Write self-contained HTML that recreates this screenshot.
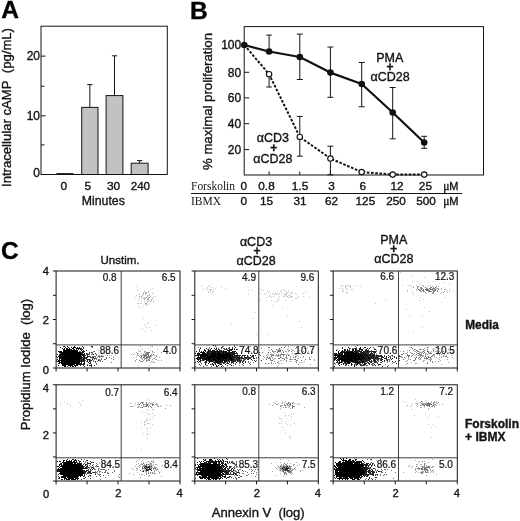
<!DOCTYPE html>
<html lang="en"><head><meta charset="utf-8"><title>Figure</title>
<style>html,body{margin:0;padding:0;background:#fff}svg{display:block}</style></head>
<body><svg width="520" height="521" viewBox="0 0 520 521">
<rect x="0" y="0" width="520" height="521" fill="#fff"/>
<text x="1.2" y="18.3" font-family='"Liberation Sans", sans-serif' font-size="24.5" text-anchor="start" font-weight="bold" fill="#000" stroke="#000" stroke-width="0.36">A</text>
<rect x="41" y="26.2" width="126.30000000000001" height="148.3" fill="none" stroke="#141414" stroke-width="1"/>
<line x1="41" y1="56.1" x2="45.5" y2="56.1" stroke="#141414" stroke-width="1"/>
<text x="40" y="60.4" font-family='"Liberation Sans", sans-serif' font-size="12" text-anchor="end" fill="#141414" stroke="#141414" stroke-width="0.36">20</text>
<line x1="41" y1="115.8" x2="45.5" y2="115.8" stroke="#141414" stroke-width="1"/>
<text x="40" y="120.1" font-family='"Liberation Sans", sans-serif' font-size="12" text-anchor="end" fill="#141414" stroke="#141414" stroke-width="0.36">10</text>
<text x="40" y="176.8" font-family='"Liberation Sans", sans-serif' font-size="12" text-anchor="end" fill="#141414" stroke="#141414" stroke-width="0.36">0</text>
<line x1="41" y1="86.3" x2="44.5" y2="86.3" stroke="#141414" stroke-width="1"/>
<line x1="41" y1="144.9" x2="44.5" y2="144.9" stroke="#141414" stroke-width="1"/>
<line x1="56.4" y1="173.7" x2="73.4" y2="173.7" stroke="#141414" stroke-width="1.2"/>
<line x1="89.85" y1="84.6" x2="89.85" y2="107.389" stroke="#141414" stroke-width="1"/>
<line x1="87.25" y1="84.6" x2="92.44999999999999" y2="84.6" stroke="#141414" stroke-width="1"/>
<rect x="81.7" y="107.389" width="16.299999999999997" height="67.111" fill="#c2c2c2" stroke="#141414" stroke-width="1"/>
<line x1="114.5" y1="55.8" x2="114.5" y2="95.589" stroke="#141414" stroke-width="1"/>
<line x1="111.9" y1="55.8" x2="117.1" y2="55.8" stroke="#141414" stroke-width="1"/>
<rect x="106.1" y="95.589" width="16.80000000000001" height="78.911" fill="#c2c2c2" stroke="#141414" stroke-width="1"/>
<line x1="139.64999999999998" y1="160.6" x2="139.64999999999998" y2="163.203" stroke="#141414" stroke-width="1"/>
<line x1="137.04999999999998" y1="160.6" x2="142.24999999999997" y2="160.6" stroke="#141414" stroke-width="1"/>
<rect x="131.2" y="163.203" width="16.900000000000006" height="11.296999999999997" fill="#c2c2c2" stroke="#141414" stroke-width="1"/>
<text x="63.9" y="189.6" font-family='"Liberation Sans", sans-serif' font-size="11.4" text-anchor="middle" textLength="6.6" lengthAdjust="spacingAndGlyphs" fill="#141414" stroke="#141414" stroke-width="0.36">0</text>
<text x="87.8" y="189.6" font-family='"Liberation Sans", sans-serif' font-size="11.4" text-anchor="middle" textLength="6.6" lengthAdjust="spacingAndGlyphs" fill="#141414" stroke="#141414" stroke-width="0.36">5</text>
<text x="113.6" y="189.6" font-family='"Liberation Sans", sans-serif' font-size="11.4" text-anchor="middle" textLength="13.3" lengthAdjust="spacingAndGlyphs" fill="#141414" stroke="#141414" stroke-width="0.36">30</text>
<text x="140.4" y="189.6" font-family='"Liberation Sans", sans-serif' font-size="11.4" text-anchor="middle" textLength="19.4" lengthAdjust="spacingAndGlyphs" fill="#141414" stroke="#141414" stroke-width="0.36">240</text>
<text x="103.3" y="204.8" font-family='"Liberation Sans", sans-serif' font-size="13" text-anchor="middle" textLength="43" lengthAdjust="spacingAndGlyphs" fill="#141414" stroke="#141414" stroke-width="0.36">Minutes</text>
<text x="11.2" y="187" font-family='"Liberation Sans", sans-serif' font-size="13" text-anchor="start" textLength="159" lengthAdjust="spacingAndGlyphs" transform="rotate(-90 11.2 187)" fill="#141414" stroke="#141414" stroke-width="0.36">Intracellular cAMP  (pg/mL)</text>
<text x="190.0" y="18.8" font-family='"Liberation Sans", sans-serif' font-size="24.5" text-anchor="start" font-weight="bold" fill="#000" stroke="#000" stroke-width="0.36">B</text>
<rect x="244.2" y="26.6" width="239.3" height="148.4" fill="none" stroke="#141414" stroke-width="1"/>
<text x="241.2" y="49.3" font-family='"Liberation Sans", sans-serif' font-size="12" text-anchor="end" fill="#141414" stroke="#141414" stroke-width="0.36">100</text>
<line x1="244.2" y1="72.3" x2="249.2" y2="72.3" stroke="#141414" stroke-width="1"/>
<text x="241.2" y="76.6" font-family='"Liberation Sans", sans-serif' font-size="12" text-anchor="end" fill="#141414" stroke="#141414" stroke-width="0.36">80</text>
<line x1="244.2" y1="97.9" x2="249.2" y2="97.9" stroke="#141414" stroke-width="1"/>
<text x="241.2" y="102.2" font-family='"Liberation Sans", sans-serif' font-size="12" text-anchor="end" fill="#141414" stroke="#141414" stroke-width="0.36">60</text>
<line x1="244.2" y1="123.7" x2="249.2" y2="123.7" stroke="#141414" stroke-width="1"/>
<text x="241.2" y="128.0" font-family='"Liberation Sans", sans-serif' font-size="12" text-anchor="end" fill="#141414" stroke="#141414" stroke-width="0.36">40</text>
<line x1="244.2" y1="149.6" x2="249.2" y2="149.6" stroke="#141414" stroke-width="1"/>
<text x="241.2" y="153.9" font-family='"Liberation Sans", sans-serif' font-size="12" text-anchor="end" fill="#141414" stroke="#141414" stroke-width="0.36">20</text>
<line x1="269.1" y1="175" x2="269.1" y2="171.5" stroke="#141414" stroke-width="1"/>
<line x1="299.8" y1="175" x2="299.8" y2="171.5" stroke="#141414" stroke-width="1"/>
<line x1="330.4" y1="175" x2="330.4" y2="171.5" stroke="#141414" stroke-width="1"/>
<line x1="361.7" y1="175" x2="361.7" y2="171.5" stroke="#141414" stroke-width="1"/>
<line x1="392.7" y1="175" x2="392.7" y2="171.5" stroke="#141414" stroke-width="1"/>
<line x1="424.2" y1="175" x2="424.2" y2="171.5" stroke="#141414" stroke-width="1"/>
<line x1="269.1" y1="35.1" x2="269.1" y2="51.5" stroke="#141414" stroke-width="1"/>
<line x1="266.3" y1="35.1" x2="271.9" y2="35.1" stroke="#141414" stroke-width="1"/>
<line x1="269.1" y1="74" x2="269.1" y2="87" stroke="#141414" stroke-width="1"/>
<line x1="266.3" y1="87" x2="271.9" y2="87" stroke="#141414" stroke-width="1"/>
<line x1="299.8" y1="34.1" x2="299.8" y2="79.5" stroke="#141414" stroke-width="1"/>
<line x1="296.8" y1="34.1" x2="302.8" y2="34.1" stroke="#141414" stroke-width="1"/>
<line x1="296.8" y1="79.5" x2="302.8" y2="79.5" stroke="#141414" stroke-width="1"/>
<line x1="330.4" y1="47" x2="330.4" y2="97.3" stroke="#141414" stroke-width="1"/>
<line x1="327.4" y1="47" x2="333.4" y2="47" stroke="#141414" stroke-width="1"/>
<line x1="327.4" y1="97.3" x2="333.4" y2="97.3" stroke="#141414" stroke-width="1"/>
<line x1="361.7" y1="62.5" x2="361.7" y2="106.75" stroke="#141414" stroke-width="1"/>
<line x1="358.7" y1="62.5" x2="364.7" y2="62.5" stroke="#141414" stroke-width="1"/>
<line x1="358.7" y1="106.75" x2="364.7" y2="106.75" stroke="#141414" stroke-width="1"/>
<line x1="392.7" y1="87.5" x2="392.7" y2="138.8" stroke="#141414" stroke-width="1"/>
<line x1="389.7" y1="87.5" x2="395.7" y2="87.5" stroke="#141414" stroke-width="1"/>
<line x1="389.7" y1="138.8" x2="395.7" y2="138.8" stroke="#141414" stroke-width="1"/>
<line x1="424.2" y1="136.3" x2="424.2" y2="148.3" stroke="#141414" stroke-width="1"/>
<line x1="421.2" y1="136.3" x2="427.2" y2="136.3" stroke="#141414" stroke-width="1"/>
<line x1="421.2" y1="148.3" x2="427.2" y2="148.3" stroke="#141414" stroke-width="1"/>
<line x1="299.8" y1="116.4" x2="299.8" y2="156.2" stroke="#141414" stroke-width="1"/>
<line x1="296.8" y1="116.4" x2="302.8" y2="116.4" stroke="#141414" stroke-width="1"/>
<line x1="296.8" y1="156.2" x2="302.8" y2="156.2" stroke="#141414" stroke-width="1"/>
<line x1="330.4" y1="146.2" x2="330.4" y2="174.8" stroke="#141414" stroke-width="1"/>
<line x1="327.4" y1="146.2" x2="333.4" y2="146.2" stroke="#141414" stroke-width="1"/>
<line x1="327.4" y1="174.8" x2="333.4" y2="174.8" stroke="#141414" stroke-width="1"/>
<polyline points="244.3,45 269.1,74.2 299.8,136.9 330.4,158.5 361.7,172 392.7,174.6 424.2,174.6" fill="none" stroke="#141414" stroke-width="2" stroke-dasharray="2.6 1.6"/>
<polyline points="244.3,45 269.1,51.5 299.8,57 330.4,72.6 361.7,84 392.7,112.5 424.2,142.5" fill="none" stroke="#111" stroke-width="2.2" stroke-linejoin="round"/>
<circle cx="269.1" cy="74.2" r="2.7" fill="#fff" stroke="#141414" stroke-width="1.15"/>
<circle cx="299.8" cy="136.9" r="2.7" fill="#fff" stroke="#141414" stroke-width="1.15"/>
<circle cx="330.4" cy="158.5" r="2.7" fill="#fff" stroke="#141414" stroke-width="1.15"/>
<circle cx="361.7" cy="172" r="2.7" fill="#fff" stroke="#141414" stroke-width="1.15"/>
<circle cx="392.7" cy="174.6" r="2.7" fill="#fff" stroke="#141414" stroke-width="1.15"/>
<circle cx="424.2" cy="174.6" r="2.7" fill="#fff" stroke="#141414" stroke-width="1.15"/>
<circle cx="244.3" cy="45" r="3.3" fill="#111"/>
<circle cx="269.1" cy="51.5" r="3.3" fill="#111"/>
<circle cx="299.8" cy="57" r="3.3" fill="#111"/>
<circle cx="330.4" cy="72.6" r="3.3" fill="#111"/>
<circle cx="361.7" cy="84" r="3.3" fill="#111"/>
<circle cx="392.7" cy="112.5" r="3.3" fill="#111"/>
<circle cx="424.2" cy="142.5" r="3.3" fill="#111"/>
<text x="389.8" y="61.8" font-family='"Liberation Sans", sans-serif' font-size="12.5" text-anchor="middle" fill="#141414" stroke="#141414" stroke-width="0.36">PMA</text>
<text x="390" y="70.5" font-family='"Liberation Sans", sans-serif' font-size="12" text-anchor="middle" font-weight="bold" fill="#141414" stroke="#141414" stroke-width="0.36">+</text>
<text x="390" y="81" font-family='"Liberation Sans", sans-serif' font-size="12.5" text-anchor="middle" fill="#141414" stroke="#141414" stroke-width="0.36">αCD28</text>
<text x="272.9" y="142.4" font-family='"Liberation Sans", sans-serif' font-size="12.5" text-anchor="middle" fill="#141414" stroke="#141414" stroke-width="0.36">αCD3</text>
<text x="273.7" y="151.5" font-family='"Liberation Sans", sans-serif' font-size="12" text-anchor="middle" font-weight="bold" fill="#141414" stroke="#141414" stroke-width="0.36">+</text>
<text x="272.9" y="163.2" font-family='"Liberation Sans", sans-serif' font-size="12.5" text-anchor="middle" fill="#141414" stroke="#141414" stroke-width="0.36">αCD28</text>
<text x="212.1" y="170" font-family='"Liberation Sans", sans-serif' font-size="13" text-anchor="start" textLength="137" lengthAdjust="spacingAndGlyphs" transform="rotate(-90 212.1 170)" fill="#141414" stroke="#141414" stroke-width="0.36">% maximal proliferation</text>
<text x="191" y="189.5" font-family='"Liberation Serif", serif' font-size="11.5" text-anchor="start" textLength="44" lengthAdjust="spacingAndGlyphs" fill="#141414" stroke="none">Forskolin</text>
<text x="191" y="205.0" font-family='"Liberation Serif", serif' font-size="11.5" text-anchor="start" textLength="30" lengthAdjust="spacingAndGlyphs" fill="#141414" stroke="none">IBMX</text>
<line x1="191" y1="193.5" x2="462.3" y2="193.5" stroke="#141414" stroke-width="1"/>
<text x="243.7" y="190.2" font-family='"Liberation Sans", sans-serif' font-size="11.8" text-anchor="middle" fill="#141414" stroke="#141414" stroke-width="0.36">0</text>
<text x="266.5" y="190.2" font-family='"Liberation Sans", sans-serif' font-size="11.8" text-anchor="middle" fill="#141414" stroke="#141414" stroke-width="0.36">0.8</text>
<text x="300" y="190.2" font-family='"Liberation Sans", sans-serif' font-size="11.8" text-anchor="middle" fill="#141414" stroke="#141414" stroke-width="0.36">1.5</text>
<text x="331.5" y="190.2" font-family='"Liberation Sans", sans-serif' font-size="11.8" text-anchor="middle" fill="#141414" stroke="#141414" stroke-width="0.36">3</text>
<text x="362.9" y="190.2" font-family='"Liberation Sans", sans-serif' font-size="11.8" text-anchor="middle" fill="#141414" stroke="#141414" stroke-width="0.36">6</text>
<text x="397" y="190.2" font-family='"Liberation Sans", sans-serif' font-size="11.8" text-anchor="middle" fill="#141414" stroke="#141414" stroke-width="0.36">12</text>
<text x="425.4" y="190.2" font-family='"Liberation Sans", sans-serif' font-size="11.8" text-anchor="middle" fill="#141414" stroke="#141414" stroke-width="0.36">25</text>
<text x="243.7" y="205.2" font-family='"Liberation Sans", sans-serif' font-size="11.8" text-anchor="middle" fill="#141414" stroke="#141414" stroke-width="0.36">0</text>
<text x="266.5" y="205.2" font-family='"Liberation Sans", sans-serif' font-size="11.8" text-anchor="middle" fill="#141414" stroke="#141414" stroke-width="0.36">15</text>
<text x="300" y="205.2" font-family='"Liberation Sans", sans-serif' font-size="11.8" text-anchor="middle" fill="#141414" stroke="#141414" stroke-width="0.36">31</text>
<text x="331.5" y="205.2" font-family='"Liberation Sans", sans-serif' font-size="11.8" text-anchor="middle" fill="#141414" stroke="#141414" stroke-width="0.36">62</text>
<text x="365.4" y="205.2" font-family='"Liberation Sans", sans-serif' font-size="11.8" text-anchor="middle" fill="#141414" stroke="#141414" stroke-width="0.36">125</text>
<text x="396" y="205.2" font-family='"Liberation Sans", sans-serif' font-size="11.8" text-anchor="middle" fill="#141414" stroke="#141414" stroke-width="0.36">250</text>
<text x="426" y="205.2" font-family='"Liberation Sans", sans-serif' font-size="11.8" text-anchor="middle" fill="#141414" stroke="#141414" stroke-width="0.36">500</text>
<text x="443.3" y="190.2" font-family='"Liberation Serif", serif' font-size="11.5" text-anchor="start" fill="#141414" stroke="#141414" stroke-width="0.36">μ</text>
<text x="449.3" y="190.2" font-family='"Liberation Sans", sans-serif' font-size="11" text-anchor="start" fill="#141414" stroke="#141414" stroke-width="0.36">M</text>
<text x="443.3" y="205.2" font-family='"Liberation Serif", serif' font-size="11.5" text-anchor="start" fill="#141414" stroke="#141414" stroke-width="0.36">μ</text>
<text x="449.3" y="205.2" font-family='"Liberation Sans", sans-serif' font-size="11" text-anchor="start" fill="#141414" stroke="#141414" stroke-width="0.36">M</text>
<text x="0.9" y="258.6" font-family='"Liberation Sans", sans-serif' font-size="24.5" text-anchor="start" font-weight="bold" fill="#000" stroke="#000" stroke-width="0.36">C</text>
<text x="120" y="263.8" font-family='"Liberation Sans", sans-serif' font-size="11.5" text-anchor="middle" fill="#141414" stroke="#141414" stroke-width="0.36">Unstim.</text>
<text x="256" y="246.3" font-family='"Liberation Sans", sans-serif' font-size="12.5" text-anchor="middle" fill="#141414" stroke="#141414" stroke-width="0.36">αCD3</text>
<text x="257" y="254.6" font-family='"Liberation Sans", sans-serif' font-size="12" text-anchor="middle" font-weight="bold" fill="#141414" stroke="#141414" stroke-width="0.36">+</text>
<text x="256" y="264.8" font-family='"Liberation Sans", sans-serif' font-size="12.5" text-anchor="middle" fill="#141414" stroke="#141414" stroke-width="0.36">αCD28</text>
<text x="393.8" y="243.8" font-family='"Liberation Sans", sans-serif' font-size="12.5" text-anchor="middle" fill="#141414" stroke="#141414" stroke-width="0.36">PMA</text>
<text x="393.8" y="252.6" font-family='"Liberation Sans", sans-serif' font-size="12" text-anchor="middle" font-weight="bold" fill="#141414" stroke="#141414" stroke-width="0.36">+</text>
<text x="393.8" y="262.8" font-family='"Liberation Sans", sans-serif' font-size="12.5" text-anchor="middle" fill="#141414" stroke="#141414" stroke-width="0.36">αCD28</text>
<text x="465.2" y="328.5" font-family='"Liberation Sans", sans-serif' font-size="12" text-anchor="start" font-weight="bold" textLength="33.6" lengthAdjust="spacingAndGlyphs" fill="#141414" stroke="#141414" stroke-width="0.36">Media</text>
<text x="465" y="428" font-family='"Liberation Sans", sans-serif' font-size="12" text-anchor="start" font-weight="bold" textLength="54" lengthAdjust="spacingAndGlyphs" fill="#141414" stroke="#141414" stroke-width="0.36">Forskolin</text>
<text x="465" y="440.5" font-family='"Liberation Sans", sans-serif' font-size="12" text-anchor="start" font-weight="bold" textLength="40.5" lengthAdjust="spacingAndGlyphs" fill="#141414" stroke="#141414" stroke-width="0.36">+ IBMX</text>
<text x="30" y="430.3" font-family='"Liberation Sans", sans-serif' font-size="13" text-anchor="start" textLength="131.5" lengthAdjust="spacingAndGlyphs" transform="rotate(-90 30 430.3)" fill="#141414" stroke="#141414" stroke-width="0.36">Propidium Iodide  (log)</text>
<text x="258.2" y="516.5" font-family='"Liberation Sans", sans-serif' font-size="13" text-anchor="middle" textLength="93" lengthAdjust="spacingAndGlyphs" fill="#141414" stroke="#141414" stroke-width="0.36">Annexin V  (log)</text>
<path d="M135 297.5h1M136 286.5h1M136 295.5h1M137 290.5h1M137 303.5h1M138 300.5h1M138 303.5h1M138 305.5h1M139 298.5h1M139 307.5h1M140 303.5h1M141 296.5h1M141 297.5h1M141 300.5h1M141 303.5h1M142 295.5h1M142 296.5h1M142 307.5h1M143 292.5h1M143 294.5h1M143 305.5h1M144 297.5h1M144 298.5h1M144 301.5h1M145 294.5h1M145 297.5h1M145 304.5h1M146 292.5h1M146 304.5h1M146 305.5h1M147 295.5h1M147 298.5h1M147 299.5h1M147 300.5h1M147 301.5h1M147 302.5h1M148 291.5h1M148 295.5h1M148 298.5h1M148 301.5h1M148 304.5h1M149 295.5h1M149 300.5h1M149 303.5h1M150 289.5h1M150 301.5h1M151 299.5h1M151 300.5h1M151 301.5h1M152 288.5h1M152 292.5h1M153 293.5h1M153 296.5h1M153 300.5h1M153 301.5h1M153 302.5h1" stroke="#cacaca" stroke-width="1.0" stroke-opacity="1" fill="none"/>
<path d="M142 328.5h1M143 318.5h1M144 325.5h1M145 324.5h1M145 331.5h1M146 327.5h1M147 323.5h1M148 322.5h1M149 327.5h1M151 330.5h1M155 296.5h1M156 325.5h1" stroke="#cacaca" stroke-width="1.0" stroke-opacity="1" fill="none"/>
<path d="M131 354.5h1M133 354.5h1M133 357.5h1M134 353.5h1M135 360.5h1M135 361.5h1M136 352.5h1M136 356.5h1M136 359.5h1M137 353.5h1M137 354.5h1M137 355.5h1M138 350.5h1M138 353.5h1M138 355.5h1M139 351.5h1M139 356.5h1M140 346.5h1M140 351.5h1M140 355.5h1M140 357.5h1M140 361.5h1M141 353.5h1M141 355.5h1M141 357.5h1M141 358.5h1M141 361.5h1M142 349.5h1M142 355.5h1M142 358.5h1M142 359.5h1M143 355.5h1M143 356.5h1M143 357.5h1M143 360.5h1M144 351.5h1M144 352.5h1M144 354.5h1M144 358.5h1M144 359.5h1M145 351.5h1M145 354.5h1M145 356.5h1M146 352.5h1M146 353.5h1M146 355.5h1M146 356.5h1M146 358.5h1M146 359.5h1M146 360.5h1M146 361.5h1M147 352.5h1M147 356.5h1M147 358.5h1M147 360.5h1M148 348.5h1M148 352.5h1M148 353.5h1M148 354.5h1M148 355.5h1M148 356.5h1M148 357.5h1M148 359.5h1M148 360.5h1M149 352.5h1M149 356.5h1M149 357.5h1M149 358.5h1M149 359.5h1M149 365.5h1M150 346.5h1M150 350.5h1M150 355.5h1M150 356.5h1M150 357.5h1M150 358.5h1M150 362.5h1M151 354.5h1M151 355.5h1M151 356.5h1M151 361.5h1M152 346.5h1M152 351.5h1M152 352.5h1M152 355.5h1M152 359.5h1M152 361.5h1M153 358.5h1M153 362.5h1M154 352.5h1M154 355.5h1M154 358.5h1M154 362.5h1M155 357.5h1M155 359.5h1M156 355.5h1M156 356.5h1M156 359.5h1M157 349.5h1M158 360.5h1M159 357.5h1M161 352.5h1M161 360.5h1" stroke="#a8a8a8" stroke-width="1.0" stroke-opacity="1" fill="none"/>
<path d="M139 294.5h1M139 296.5h1M141 297.5h1M142 295.5h1M143 293.5h1M143 298.5h1M144 291.5h1M144 299.5h1M145 292.5h1M145 293.5h1M145 298.5h1M145 303.5h1M146 293.5h1M146 297.5h1M146 303.5h1M147 296.5h1M147 299.5h1M148 292.5h1M148 297.5h1M148 298.5h1M148 299.5h1M149 294.5h1M149 297.5h1M150 296.5h1M151 299.5h1M152 298.5h1" stroke="#a8a8a8" stroke-width="1.0" stroke-opacity="1" fill="none"/>
<path d="M70 353.5h1M71 363.5h1M72 365.5h1M74 350.5h1M74 358.5h1M74 361.5h1M74 364.5h1M75 356.5h1M75 357.5h1M76 357.5h1M77 355.5h1M77 356.5h1M78 348.5h1M78 357.5h1M78 359.5h1M79 348.5h1M79 356.5h1M79 364.5h1M80 351.5h1M80 352.5h1M80 360.5h1M81 355.5h1M81 357.5h1M82 358.5h1M82 360.5h1M83 358.5h1M83 365.5h1M84 351.5h1M84 357.5h1M84 359.5h1M84 360.5h1M84 361.5h1M85 357.5h1M85 360.5h1M86 354.5h1M86 358.5h1M86 359.5h1M86 361.5h1M87 353.5h1M87 354.5h1M87 357.5h1M87 360.5h1M87 364.5h1M88 354.5h1M88 362.5h1M89 354.5h1M89 356.5h1M89 360.5h1M90 356.5h1M90 357.5h1M90 359.5h1M90 361.5h1M91 352.5h1M91 354.5h1M91 357.5h1M91 360.5h1M91 364.5h1M92 347.5h1M92 352.5h1M92 353.5h1M92 354.5h1M92 356.5h1M92 357.5h1M92 358.5h1M93 351.5h1M93 356.5h1M93 357.5h1M93 358.5h1M93 360.5h1M93 361.5h1M94 351.5h1M94 356.5h1M94 359.5h1M95 356.5h1M95 357.5h1M95 358.5h1M95 362.5h1M96 354.5h1M96 355.5h1M96 358.5h1M96 359.5h1M96 363.5h1M96 364.5h1M97 357.5h1M97 361.5h1M98 350.5h1M98 353.5h1M98 355.5h1M98 356.5h1M98 359.5h1M98 360.5h1M99 352.5h1M99 355.5h1M99 356.5h1M99 357.5h1M99 359.5h1M99 360.5h1M100 356.5h1M100 360.5h1M100 361.5h1M101 355.5h1M101 356.5h1M101 358.5h1M101 359.5h1M102 355.5h1M102 356.5h1M102 361.5h1M103 349.5h1M103 354.5h1M103 356.5h1M104 359.5h1M105 359.5h1M106 346.5h1M106 357.5h1M106 358.5h1M107 352.5h1M107 354.5h1M107 355.5h1M109 352.5h1M109 354.5h1M109 355.5h1M109 357.5h1M110 354.5h1M111 355.5h1M111 358.5h1M111 362.5h1M112 351.5h1M113 357.5h1M113 359.5h1M115 355.5h1" stroke="#707070" stroke-width="1.0" stroke-opacity="1" fill="none"/>
<path d="M139 360.5h1M141 356.5h1M142 361.5h1M143 354.5h1M143 357.5h1M144 355.5h1M144 356.5h1M144 357.5h1M145 353.5h1M145 355.5h1M145 358.5h1M146 352.5h1M146 354.5h1M146 355.5h1M146 357.5h1M146 358.5h1M146 360.5h1M147 352.5h1M147 353.5h1M147 354.5h1M147 356.5h1M147 357.5h1M148 352.5h1M148 354.5h1M148 355.5h1M148 356.5h1M148 359.5h1M149 352.5h1M149 356.5h1M149 357.5h1M149 360.5h1M150 355.5h1M152 351.5h1M153 354.5h1" stroke="#707070" stroke-width="1.0" stroke-opacity="1" fill="none"/>
<path d="M56 356.5h1M56 360.5h1M57 354.5h1M57 357.5h1M58 356.5h1M58 363.5h1M59 351.5h1M59 354.5h1M59 355.5h1M59 359.5h1M59 360.5h1M59 361.5h1M59 363.5h1M60 347.5h1M60 353.5h1M60 357.5h1M61 351.5h1M61 352.5h1M61 354.5h1M61 356.5h1M61 361.5h1M61 362.5h1M62 348.5h1M62 355.5h1M62 356.5h1M62 360.5h1M62 362.5h1M62 363.5h1M63 346.5h1M63 349.5h1M63 350.5h1M63 351.5h1M63 353.5h1M63 354.5h1M63 357.5h1M63 359.5h1M63 360.5h1M63 362.5h1M64 352.5h1M64 354.5h1M64 358.5h1M64 360.5h1M64 361.5h1M64 362.5h1M65 351.5h1M65 353.5h1M65 354.5h1M65 357.5h1M65 358.5h1M65 359.5h1M65 360.5h1M65 362.5h1M65 363.5h1M66 348.5h1M66 349.5h1M66 351.5h1M66 352.5h1M66 353.5h1M66 354.5h1M66 355.5h1M66 356.5h1M66 358.5h1M66 359.5h1M66 360.5h1M66 362.5h1M66 363.5h1M66 364.5h1M67 348.5h1M67 349.5h1M67 350.5h1M67 352.5h1M67 354.5h1M67 355.5h1M67 357.5h1M67 359.5h1M67 360.5h1M67 361.5h1M67 362.5h1M67 363.5h1M67 366.5h1M68 351.5h1M68 353.5h1M68 354.5h1M68 355.5h1M68 356.5h1M68 357.5h1M68 358.5h1M68 360.5h1M68 361.5h1M68 362.5h1M68 363.5h1M69 349.5h1M69 353.5h1M69 354.5h1M69 355.5h1M69 356.5h1M69 357.5h1M69 358.5h1M69 359.5h1M69 360.5h1M69 361.5h1M69 362.5h1M69 363.5h1M70 349.5h1M70 350.5h1M70 351.5h1M70 353.5h1M70 354.5h1M70 355.5h1M70 356.5h1M70 357.5h1M70 358.5h1M70 359.5h1M70 360.5h1M70 363.5h1M70 364.5h1M71 349.5h1M71 351.5h1M71 352.5h1M71 353.5h1M71 354.5h1M71 355.5h1M71 356.5h1M71 357.5h1M71 358.5h1M71 359.5h1M71 360.5h1M71 361.5h1M71 362.5h1M71 363.5h1M71 364.5h1M72 348.5h1M72 351.5h1M72 352.5h1M72 354.5h1M72 356.5h1M72 357.5h1M72 359.5h1M72 360.5h1M72 361.5h1M72 362.5h1M72 364.5h1M73 349.5h1M73 353.5h1M73 354.5h1M73 355.5h1M73 357.5h1M73 358.5h1M73 359.5h1M73 360.5h1M73 361.5h1M73 362.5h1M73 363.5h1M74 346.5h1M74 350.5h1M74 352.5h1M74 353.5h1M74 354.5h1M74 355.5h1M74 356.5h1M74 357.5h1M74 358.5h1M74 359.5h1M74 360.5h1M74 361.5h1M74 362.5h1M74 363.5h1M74 364.5h1M74 365.5h1M75 347.5h1M75 351.5h1M75 352.5h1M75 354.5h1M75 355.5h1M75 356.5h1M75 357.5h1M75 358.5h1M75 359.5h1M75 360.5h1M75 361.5h1M75 362.5h1M76 349.5h1M76 350.5h1M76 351.5h1M76 352.5h1M76 353.5h1M76 354.5h1M76 355.5h1M76 356.5h1M76 357.5h1M76 358.5h1M76 359.5h1M76 360.5h1M76 361.5h1M76 362.5h1M76 363.5h1M76 365.5h1M77 347.5h1M77 350.5h1M77 352.5h1M77 353.5h1M77 354.5h1M77 355.5h1M77 356.5h1M77 357.5h1M77 358.5h1M77 359.5h1M77 360.5h1M77 362.5h1M77 363.5h1M77 364.5h1M77 365.5h1M78 348.5h1M78 349.5h1M78 352.5h1M78 353.5h1M78 354.5h1M78 355.5h1M78 356.5h1M78 357.5h1M78 358.5h1M78 359.5h1M78 360.5h1M78 361.5h1M78 362.5h1M78 363.5h1M78 364.5h1M79 347.5h1M79 351.5h1M79 352.5h1M79 353.5h1M79 355.5h1M79 356.5h1M79 357.5h1M79 358.5h1M79 359.5h1M79 360.5h1M79 361.5h1M79 363.5h1M79 364.5h1M80 348.5h1M80 352.5h1M80 354.5h1M80 355.5h1M80 356.5h1M80 357.5h1M80 359.5h1M80 360.5h1M80 361.5h1M80 363.5h1M80 364.5h1M80 365.5h1M81 348.5h1M81 349.5h1M81 350.5h1M81 352.5h1M81 353.5h1M81 356.5h1M81 357.5h1M81 358.5h1M81 359.5h1M81 360.5h1M81 362.5h1M81 363.5h1M81 364.5h1M82 346.5h1M82 349.5h1M82 352.5h1M82 353.5h1M82 354.5h1M82 355.5h1M82 357.5h1M82 359.5h1M82 360.5h1M82 361.5h1M82 364.5h1M83 347.5h1M83 348.5h1M83 350.5h1M83 351.5h1M83 352.5h1M83 356.5h1M83 357.5h1M83 358.5h1M83 360.5h1M83 361.5h1M83 363.5h1M83 364.5h1M83 365.5h1M84 351.5h1M84 354.5h1M84 355.5h1M84 356.5h1M84 357.5h1M84 358.5h1M84 359.5h1M84 360.5h1M84 361.5h1M84 362.5h1M84 363.5h1M84 364.5h1M84 366.5h1M85 355.5h1M85 357.5h1M85 358.5h1M86 350.5h1M86 353.5h1M86 357.5h1M86 358.5h1M87 354.5h1M87 355.5h1M87 356.5h1M87 357.5h1M87 359.5h1M87 360.5h1M87 361.5h1M87 365.5h1M88 354.5h1M88 356.5h1M88 359.5h1M88 362.5h1M89 352.5h1M89 353.5h1M89 356.5h1M89 359.5h1M89 360.5h1M89 361.5h1M89 363.5h1M89 365.5h1M90 357.5h1M90 360.5h1M90 362.5h1M90 363.5h1M90 365.5h1M91 346.5h1M91 352.5h1M91 360.5h1M91 364.5h1M91 365.5h1M91 366.5h1M92 346.5h1M92 357.5h1M92 359.5h1M93 354.5h1M93 357.5h1M94 358.5h1M94 365.5h1M95 353.5h1M95 361.5h1M98 360.5h1M99 354.5h1" stroke="#262626" stroke-width="1.0" stroke-opacity="1" fill="none"/>
<path d="M57 359.5h1M57 361.5h1M58 351.5h1M58 356.5h1M58 360.5h1M58 361.5h1M58 365.5h1M59 352.5h1M59 355.5h1M59 356.5h1M59 357.5h1M59 358.5h1M59 359.5h1M59 361.5h1M59 362.5h1M60 347.5h1M60 351.5h1M60 352.5h1M60 354.5h1M60 355.5h1M60 356.5h1M60 357.5h1M60 358.5h1M60 360.5h1M60 362.5h1M61 351.5h1M61 353.5h1M61 354.5h1M61 355.5h1M61 356.5h1M61 357.5h1M61 358.5h1M61 359.5h1M61 360.5h1M61 361.5h1M61 362.5h1M61 363.5h1M62 352.5h1M62 353.5h1M62 354.5h1M62 355.5h1M62 356.5h1M62 357.5h1M62 358.5h1M62 359.5h1M62 360.5h1M62 361.5h1M62 362.5h1M62 363.5h1M62 364.5h1M62 365.5h1M63 349.5h1M63 351.5h1M63 352.5h1M63 353.5h1M63 354.5h1M63 355.5h1M63 356.5h1M63 357.5h1M63 358.5h1M63 359.5h1M63 360.5h1M63 361.5h1M63 363.5h1M63 364.5h1M63 365.5h1M64 346.5h1M64 348.5h1M64 349.5h1M64 350.5h1M64 351.5h1M64 352.5h1M64 353.5h1M64 354.5h1M64 355.5h1M64 356.5h1M64 357.5h1M64 358.5h1M64 359.5h1M64 360.5h1M64 361.5h1M64 362.5h1M64 363.5h1M64 364.5h1M64 365.5h1M64 366.5h1M65 347.5h1M65 350.5h1M65 351.5h1M65 352.5h1M65 353.5h1M65 354.5h1M65 355.5h1M65 356.5h1M65 357.5h1M65 358.5h1M65 359.5h1M65 360.5h1M65 361.5h1M65 362.5h1M65 363.5h1M65 364.5h1M65 365.5h1M65 366.5h1M66 348.5h1M66 349.5h1M66 350.5h1M66 351.5h1M66 352.5h1M66 353.5h1M66 354.5h1M66 355.5h1M66 356.5h1M66 357.5h1M66 358.5h1M66 359.5h1M66 360.5h1M66 361.5h1M66 362.5h1M66 363.5h1M66 364.5h1M67 346.5h1M67 348.5h1M67 349.5h1M67 350.5h1M67 351.5h1M67 352.5h1M67 353.5h1M67 354.5h1M67 355.5h1M67 356.5h1M67 357.5h1M67 358.5h1M67 359.5h1M67 360.5h1M67 361.5h1M67 362.5h1M67 363.5h1M67 364.5h1M68 347.5h1M68 349.5h1M68 350.5h1M68 351.5h1M68 352.5h1M68 353.5h1M68 354.5h1M68 355.5h1M68 356.5h1M68 357.5h1M68 358.5h1M68 359.5h1M68 360.5h1M68 361.5h1M68 362.5h1M68 363.5h1M68 364.5h1M68 365.5h1M69 348.5h1M69 349.5h1M69 350.5h1M69 351.5h1M69 352.5h1M69 353.5h1M69 354.5h1M69 355.5h1M69 356.5h1M69 357.5h1M69 358.5h1M69 359.5h1M69 360.5h1M69 361.5h1M69 362.5h1M69 363.5h1M69 364.5h1M69 365.5h1M70 350.5h1M70 351.5h1M70 352.5h1M70 353.5h1M70 354.5h1M70 355.5h1M70 356.5h1M70 357.5h1M70 358.5h1M70 359.5h1M70 360.5h1M70 361.5h1M70 362.5h1M70 363.5h1M70 364.5h1M70 365.5h1M70 366.5h1M71 347.5h1M71 349.5h1M71 350.5h1M71 351.5h1M71 352.5h1M71 353.5h1M71 354.5h1M71 355.5h1M71 356.5h1M71 357.5h1M71 358.5h1M71 359.5h1M71 360.5h1M71 361.5h1M71 362.5h1M71 363.5h1M71 364.5h1M71 365.5h1M72 348.5h1M72 350.5h1M72 351.5h1M72 352.5h1M72 353.5h1M72 354.5h1M72 355.5h1M72 356.5h1M72 357.5h1M72 358.5h1M72 359.5h1M72 360.5h1M72 361.5h1M72 362.5h1M72 363.5h1M72 364.5h1M72 365.5h1M72 366.5h1M73 347.5h1M73 348.5h1M73 350.5h1M73 351.5h1M73 352.5h1M73 353.5h1M73 354.5h1M73 355.5h1M73 356.5h1M73 357.5h1M73 358.5h1M73 359.5h1M73 360.5h1M73 361.5h1M73 362.5h1M73 363.5h1M73 364.5h1M73 366.5h1M74 346.5h1M74 347.5h1M74 349.5h1M74 350.5h1M74 351.5h1M74 352.5h1M74 353.5h1M74 354.5h1M74 355.5h1M74 356.5h1M74 357.5h1M74 358.5h1M74 359.5h1M74 360.5h1M74 361.5h1M74 362.5h1M74 363.5h1M74 365.5h1M75 347.5h1M75 350.5h1M75 351.5h1M75 352.5h1M75 353.5h1M75 354.5h1M75 355.5h1M75 356.5h1M75 357.5h1M75 358.5h1M75 359.5h1M75 360.5h1M75 361.5h1M75 362.5h1M75 363.5h1M75 365.5h1M75 366.5h1M76 348.5h1M76 351.5h1M76 352.5h1M76 353.5h1M76 354.5h1M76 355.5h1M76 356.5h1M76 357.5h1M76 358.5h1M76 359.5h1M76 360.5h1M76 361.5h1M76 362.5h1M76 363.5h1M76 364.5h1M77 347.5h1M77 348.5h1M77 350.5h1M77 351.5h1M77 352.5h1M77 353.5h1M77 354.5h1M77 355.5h1M77 356.5h1M77 357.5h1M77 358.5h1M77 359.5h1M77 360.5h1M77 361.5h1M77 362.5h1M77 363.5h1M77 364.5h1M78 349.5h1M78 352.5h1M78 353.5h1M78 354.5h1M78 355.5h1M78 356.5h1M78 357.5h1M78 358.5h1M78 359.5h1M78 360.5h1M78 361.5h1M78 362.5h1M78 363.5h1M78 364.5h1M79 348.5h1M79 352.5h1M79 353.5h1M79 354.5h1M79 355.5h1M79 356.5h1M79 357.5h1M79 358.5h1M79 359.5h1M79 360.5h1M79 361.5h1M79 362.5h1M79 364.5h1M80 349.5h1M80 353.5h1M80 354.5h1M80 355.5h1M80 356.5h1M80 357.5h1M80 358.5h1M80 363.5h1M81 354.5h1M81 361.5h1M82 351.5h1M83 354.5h1M83 355.5h1M83 358.5h1M83 359.5h1M84 353.5h1M84 362.5h1" stroke="#000" stroke-width="1.0" stroke-opacity="1" fill="none"/>
<rect x="98.4" y="346.8" width="20.7" height="8.6" fill="#fff"/>
<rect x="56.1" y="271" width="123.9" height="97.0" fill="none" stroke="#141414" stroke-width="1"/>
<line x1="121.2" y1="271" x2="121.2" y2="368.0" stroke="#2a2a2a" stroke-width="0.9"/>
<line x1="56.1" y1="344.9" x2="180" y2="344.9" stroke="#2a2a2a" stroke-width="0.9"/>
<line x1="52.9" y1="271.0" x2="56.1" y2="271.0" stroke="#141414" stroke-width="1"/>
<line x1="56.1" y1="368.0" x2="56.1" y2="371.4" stroke="#141414" stroke-width="1"/>
<line x1="52.9" y1="295.25" x2="56.1" y2="295.25" stroke="#141414" stroke-width="1"/>
<line x1="87.075" y1="368.0" x2="87.075" y2="371.4" stroke="#141414" stroke-width="1"/>
<line x1="52.9" y1="319.5" x2="56.1" y2="319.5" stroke="#141414" stroke-width="1"/>
<line x1="118.05000000000001" y1="368.0" x2="118.05000000000001" y2="371.4" stroke="#141414" stroke-width="1"/>
<line x1="52.9" y1="343.75" x2="56.1" y2="343.75" stroke="#141414" stroke-width="1"/>
<line x1="149.025" y1="368.0" x2="149.025" y2="371.4" stroke="#141414" stroke-width="1"/>
<line x1="52.9" y1="368.0" x2="56.1" y2="368.0" stroke="#141414" stroke-width="1"/>
<line x1="180.0" y1="368.0" x2="180.0" y2="371.4" stroke="#141414" stroke-width="1"/>
<text x="116.6" y="281" font-family='"Liberation Sans", sans-serif' font-size="10" text-anchor="end" fill="#141414" stroke="#141414" stroke-width="0.22">0.8</text>
<text x="175.6" y="281" font-family='"Liberation Sans", sans-serif' font-size="10" text-anchor="end" fill="#141414" stroke="#141414" stroke-width="0.22">6.5</text>
<text x="119.1" y="354.4" font-family='"Liberation Sans", sans-serif' font-size="10" text-anchor="end" fill="#141414" stroke="#141414" stroke-width="0.22">88.6</text>
<text x="176.79999999999998" y="354.4" font-family='"Liberation Sans", sans-serif' font-size="10" text-anchor="end" fill="#141414" stroke="#141414" stroke-width="0.22">4.0</text>
<path d="M201 286.5h1M203 289.5h1M206 289.5h1M207 287.5h1M207 288.5h1M208 286.5h1M208 291.5h1M208 292.5h1M209 285.5h1M209 289.5h1M210 289.5h1M210 290.5h1M210 291.5h1M211 287.5h1M211 289.5h1M211 293.5h1M212 291.5h1M212 292.5h1M213 289.5h1M213 291.5h1M215 288.5h1M221 287.5h1M225 288.5h1" stroke="#cacaca" stroke-width="1.0" stroke-opacity="1" fill="none"/>
<path d="M248 290.5h1M248 294.5h1M252 290.5h1M258 291.5h1M259 288.5h1M259 293.5h1M260 300.5h1M261 290.5h1M263 290.5h1M264 293.5h1M265 294.5h1M267 291.5h1M267 297.5h1M268 292.5h1M269 291.5h1M269 295.5h1M269 296.5h1M270 293.5h1M270 296.5h1M271 297.5h1M271 300.5h1M272 293.5h1M273 294.5h1M273 296.5h1M274 294.5h1M274 301.5h1M275 292.5h1M275 293.5h1M276 294.5h1M277 290.5h1M277 293.5h1M277 300.5h1M277 301.5h1M278 294.5h1M278 298.5h1M279 293.5h1M279 296.5h1M279 299.5h1M280 291.5h1M281 290.5h1M281 292.5h1M281 294.5h1M283 289.5h1M283 296.5h1M284 290.5h1M284 294.5h1M284 295.5h1M284 296.5h1M285 291.5h1M285 293.5h1M285 294.5h1M285 300.5h1M286 292.5h1M286 293.5h1M286 295.5h1M286 296.5h1M287 293.5h1M287 296.5h1M288 290.5h1M288 292.5h1M288 295.5h1M288 297.5h1M289 294.5h1M289 297.5h1M290 292.5h1M290 295.5h1M290 296.5h1M291 293.5h1M291 296.5h1M291 297.5h1M292 292.5h1M292 293.5h1M292 296.5h1M292 300.5h1M295 293.5h1M295 298.5h1M296 294.5h1M296 298.5h1M298 296.5h1M303 293.5h1M303 296.5h1M305 291.5h1M309 296.5h1" stroke="#cacaca" stroke-width="1.0" stroke-opacity="1" fill="none"/>
<path d="M231 323.5h1M252 318.5h1M255 312.5h1M256 334.5h1M258 327.5h1M268 334.5h1M272 305.5h1M282 307.5h1M287 316.5h1M297 297.5h1M299 321.5h1M301 327.5h1" stroke="#cacaca" stroke-width="1.0" stroke-opacity="1" fill="none"/>
<path d="M262 352.5h1M263 356.5h1M263 359.5h1M264 357.5h1M266 355.5h1M266 357.5h1M266 358.5h1M267 354.5h1M267 356.5h1M268 349.5h1M268 353.5h1M268 355.5h1M269 350.5h1M270 352.5h1M270 357.5h1M270 358.5h1M270 359.5h1M270 360.5h1M271 354.5h1M271 363.5h1M272 350.5h1M272 354.5h1M272 357.5h1M272 358.5h1M273 351.5h1M273 352.5h1M273 354.5h1M273 355.5h1M273 359.5h1M273 363.5h1M274 351.5h1M274 353.5h1M274 358.5h1M274 361.5h1M275 351.5h1M275 355.5h1M275 358.5h1M275 363.5h1M276 354.5h1M276 355.5h1M277 350.5h1M277 351.5h1M277 352.5h1M277 355.5h1M277 356.5h1M277 366.5h1M278 349.5h1M278 351.5h1M278 354.5h1M278 355.5h1M278 356.5h1M278 361.5h1M278 363.5h1M278 365.5h1M279 349.5h1M279 350.5h1M279 355.5h1M279 363.5h1M280 349.5h1M280 350.5h1M280 351.5h1M280 354.5h1M280 356.5h1M280 357.5h1M280 360.5h1M281 352.5h1M281 353.5h1M281 354.5h1M281 357.5h1M281 360.5h1M281 363.5h1M283 351.5h1M283 354.5h1M283 356.5h1M283 358.5h1M283 360.5h1M284 354.5h1M284 358.5h1M285 346.5h1M285 351.5h1M285 354.5h1M285 357.5h1M286 351.5h1M286 356.5h1M286 357.5h1M286 358.5h1M286 361.5h1M287 349.5h1M287 354.5h1M287 358.5h1M288 346.5h1M288 348.5h1M288 350.5h1M288 351.5h1M288 354.5h1M288 355.5h1M289 355.5h1M289 359.5h1M289 361.5h1M290 356.5h1M290 357.5h1M290 358.5h1M290 361.5h1M291 349.5h1M291 359.5h1M292 350.5h1M292 353.5h1M292 359.5h1M293 350.5h1M293 355.5h1M294 351.5h1M294 353.5h1M294 359.5h1M295 348.5h1M295 354.5h1M295 357.5h1M295 361.5h1M296 354.5h1M296 356.5h1M296 361.5h1M297 351.5h1M297 352.5h1M297 355.5h1M297 358.5h1M297 360.5h1M298 352.5h1M298 353.5h1M298 356.5h1M298 358.5h1M299 350.5h1M299 362.5h1M300 357.5h1M301 351.5h1M301 354.5h1M301 362.5h1M302 353.5h1M302 362.5h1M303 351.5h1M303 353.5h1M303 356.5h1M303 357.5h1M304 348.5h1M304 361.5h1M305 352.5h1M307 347.5h1M308 351.5h1M309 353.5h1M309 358.5h1M309 359.5h1M310 359.5h1M310 364.5h1M311 351.5h1M311 356.5h1M314 359.5h1M314 360.5h1" stroke="#a8a8a8" stroke-width="1.0" stroke-opacity="1" fill="none"/>
<path d="M195 366.5h1M197 358.5h1M198 347.5h1M198 352.5h1M198 356.5h1M199 349.5h1M199 350.5h1M199 354.5h1M199 355.5h1M199 364.5h1M200 347.5h1M200 362.5h1M200 365.5h1M201 352.5h1M201 354.5h1M201 356.5h1M201 360.5h1M202 355.5h1M202 356.5h1M203 351.5h1M203 352.5h1M204 350.5h1M204 353.5h1M204 355.5h1M204 356.5h1M204 357.5h1M204 359.5h1M204 360.5h1M204 362.5h1M205 356.5h1M205 362.5h1M206 352.5h1M206 353.5h1M206 357.5h1M206 365.5h1M207 349.5h1M207 353.5h1M207 354.5h1M207 357.5h1M207 359.5h1M207 360.5h1M207 365.5h1M208 355.5h1M208 361.5h1M208 363.5h1M209 347.5h1M209 348.5h1M209 351.5h1M209 356.5h1M209 360.5h1M210 350.5h1M210 355.5h1M210 356.5h1M210 359.5h1M210 360.5h1M211 360.5h1M211 361.5h1M211 364.5h1M211 366.5h1M212 350.5h1M212 353.5h1M212 354.5h1M212 356.5h1M212 357.5h1M213 351.5h1M213 353.5h1M213 358.5h1M213 362.5h1M214 361.5h1M214 363.5h1M215 345.5h1M215 346.5h1M215 349.5h1M215 351.5h1M215 352.5h1M215 353.5h1M215 355.5h1M215 357.5h1M215 361.5h1M215 362.5h1M216 347.5h1M216 349.5h1M216 350.5h1M216 358.5h1M216 360.5h1M217 351.5h1M217 352.5h1M217 356.5h1M217 357.5h1M217 361.5h1M217 362.5h1M218 348.5h1M218 351.5h1M218 352.5h1M218 354.5h1M218 355.5h1M218 356.5h1M218 363.5h1M219 349.5h1M219 350.5h1M219 351.5h1M219 353.5h1M219 354.5h1M219 356.5h1M219 358.5h1M219 364.5h1M220 350.5h1M220 351.5h1M220 353.5h1M220 354.5h1M220 360.5h1M220 362.5h1M220 363.5h1M221 348.5h1M221 350.5h1M221 352.5h1M221 356.5h1M221 360.5h1M221 363.5h1M222 346.5h1M222 347.5h1M222 356.5h1M222 359.5h1M222 365.5h1M223 346.5h1M223 348.5h1M223 353.5h1M223 354.5h1M223 355.5h1M223 362.5h1M223 366.5h1M224 348.5h1M224 349.5h1M224 352.5h1M224 353.5h1M224 354.5h1M224 355.5h1M224 357.5h1M224 363.5h1M225 349.5h1M225 353.5h1M225 357.5h1M225 358.5h1M225 359.5h1M225 360.5h1M225 362.5h1M226 349.5h1M226 354.5h1M226 355.5h1M226 358.5h1M226 359.5h1M226 360.5h1M226 361.5h1M226 363.5h1M227 349.5h1M227 352.5h1M227 353.5h1M227 354.5h1M227 355.5h1M227 360.5h1M227 361.5h1M227 362.5h1M228 348.5h1M228 351.5h1M228 354.5h1M228 355.5h1M228 358.5h1M228 359.5h1M228 361.5h1M229 348.5h1M229 349.5h1M229 353.5h1M229 354.5h1M229 356.5h1M229 360.5h1M229 364.5h1M230 350.5h1M230 352.5h1M230 353.5h1M230 354.5h1M230 360.5h1M231 355.5h1M231 357.5h1M231 358.5h1M231 360.5h1M231 361.5h1M231 363.5h1M232 348.5h1M232 351.5h1M232 355.5h1M232 356.5h1M232 362.5h1M233 351.5h1M233 355.5h1M233 356.5h1M233 357.5h1M233 358.5h1M233 359.5h1M233 360.5h1M233 362.5h1M233 365.5h1M234 345.5h1M234 346.5h1M234 348.5h1M234 353.5h1M234 356.5h1M234 357.5h1M234 359.5h1M234 360.5h1M235 347.5h1M235 351.5h1M235 355.5h1M235 356.5h1M235 358.5h1M235 360.5h1M235 363.5h1M235 364.5h1M236 353.5h1M236 355.5h1M236 360.5h1M237 353.5h1M237 355.5h1M237 356.5h1M238 348.5h1M238 349.5h1M238 354.5h1M238 356.5h1M238 359.5h1M238 360.5h1M238 361.5h1M239 349.5h1M239 351.5h1M239 352.5h1M239 353.5h1M239 354.5h1M239 356.5h1M239 360.5h1M239 362.5h1M239 363.5h1M239 365.5h1M240 350.5h1M240 351.5h1M240 355.5h1M240 358.5h1M240 359.5h1M240 361.5h1M240 362.5h1M241 354.5h1M241 356.5h1M241 358.5h1M241 359.5h1M241 360.5h1M242 356.5h1M242 357.5h1M242 364.5h1M243 350.5h1M243 352.5h1M243 354.5h1M243 359.5h1M243 361.5h1M243 365.5h1M244 350.5h1M244 352.5h1M244 354.5h1M244 358.5h1M244 360.5h1M245 352.5h1M245 354.5h1M245 359.5h1M246 354.5h1M247 356.5h1M247 357.5h1M247 358.5h1M248 348.5h1M248 350.5h1M248 354.5h1M248 356.5h1M248 361.5h1M248 362.5h1M249 363.5h1M250 355.5h1M250 357.5h1M250 362.5h1M250 364.5h1M251 354.5h1M251 356.5h1M252 360.5h1M253 348.5h1M253 349.5h1M253 358.5h1M253 362.5h1M255 350.5h1M256 357.5h1M256 358.5h1M256 360.5h1" stroke="#707070" stroke-width="1.0" stroke-opacity="1" fill="none"/>
<path d="M260 355.5h1M261 348.5h1M261 360.5h1M262 352.5h1M265 363.5h1M266 359.5h1M267 357.5h1M268 347.5h1M268 352.5h1M268 358.5h1M268 363.5h1M269 347.5h1M269 357.5h1M269 358.5h1M270 354.5h1M270 359.5h1M271 349.5h1M271 355.5h1M271 356.5h1M271 360.5h1M271 362.5h1M272 351.5h1M272 355.5h1M272 360.5h1M273 355.5h1M274 361.5h1M276 349.5h1M277 352.5h1M277 355.5h1M277 362.5h1M278 350.5h1M278 351.5h1M278 355.5h1M278 358.5h1M279 348.5h1M279 350.5h1M279 351.5h1M279 358.5h1M280 350.5h1M280 351.5h1M280 355.5h1M280 357.5h1M281 347.5h1M281 354.5h1M282 350.5h1M282 354.5h1M282 358.5h1M283 352.5h1M283 354.5h1M283 355.5h1M284 347.5h1M284 359.5h1M286 355.5h1M286 357.5h1M286 360.5h1M288 355.5h1M289 350.5h1M290 359.5h1M291 351.5h1M293 357.5h1M294 359.5h1M295 353.5h1M295 354.5h1M295 356.5h1M295 357.5h1M295 359.5h1M296 353.5h1M296 360.5h1M296 362.5h1M298 364.5h1M301 360.5h1M304 348.5h1M305 359.5h1M309 357.5h1M312 352.5h1" stroke="#707070" stroke-width="1.0" stroke-opacity="1" fill="none"/>
<path d="M195 353.5h1M195 355.5h1M195 362.5h1M196 351.5h1M196 355.5h1M196 358.5h1M197 353.5h1M197 354.5h1M197 357.5h1M197 358.5h1M197 361.5h1M198 353.5h1M198 354.5h1M198 355.5h1M198 356.5h1M198 357.5h1M198 358.5h1M198 359.5h1M198 360.5h1M198 362.5h1M199 349.5h1M199 351.5h1M199 354.5h1M199 358.5h1M199 359.5h1M199 364.5h1M200 348.5h1M200 352.5h1M200 354.5h1M200 357.5h1M200 359.5h1M200 360.5h1M200 361.5h1M201 351.5h1M201 356.5h1M201 357.5h1M201 363.5h1M202 353.5h1M202 354.5h1M202 355.5h1M202 357.5h1M202 358.5h1M202 359.5h1M202 360.5h1M203 351.5h1M203 352.5h1M203 353.5h1M203 354.5h1M203 355.5h1M203 357.5h1M203 358.5h1M203 359.5h1M203 360.5h1M203 366.5h1M204 349.5h1M204 350.5h1M204 352.5h1M204 353.5h1M204 354.5h1M204 355.5h1M204 357.5h1M204 358.5h1M205 351.5h1M205 353.5h1M205 354.5h1M205 355.5h1M205 356.5h1M205 357.5h1M205 359.5h1M205 361.5h1M205 362.5h1M205 363.5h1M206 348.5h1M206 354.5h1M206 355.5h1M206 356.5h1M206 357.5h1M206 358.5h1M206 359.5h1M206 360.5h1M206 361.5h1M207 351.5h1M207 353.5h1M207 354.5h1M207 355.5h1M207 356.5h1M207 357.5h1M207 358.5h1M207 359.5h1M207 360.5h1M208 350.5h1M208 352.5h1M208 353.5h1M208 354.5h1M208 355.5h1M208 356.5h1M208 357.5h1M208 358.5h1M208 359.5h1M208 360.5h1M209 350.5h1M209 351.5h1M209 352.5h1M209 353.5h1M209 354.5h1M209 355.5h1M209 357.5h1M209 358.5h1M209 359.5h1M209 360.5h1M209 361.5h1M209 362.5h1M210 349.5h1M210 350.5h1M210 351.5h1M210 352.5h1M210 353.5h1M210 354.5h1M210 355.5h1M210 356.5h1M210 357.5h1M210 358.5h1M210 359.5h1M210 360.5h1M210 364.5h1M211 351.5h1M211 352.5h1M211 353.5h1M211 354.5h1M211 355.5h1M211 356.5h1M211 357.5h1M211 358.5h1M211 359.5h1M211 360.5h1M211 361.5h1M212 351.5h1M212 353.5h1M212 354.5h1M212 355.5h1M212 356.5h1M212 357.5h1M212 358.5h1M212 359.5h1M212 360.5h1M212 361.5h1M212 363.5h1M212 364.5h1M213 345.5h1M213 350.5h1M213 351.5h1M213 353.5h1M213 354.5h1M213 355.5h1M213 356.5h1M213 357.5h1M213 358.5h1M213 359.5h1M213 360.5h1M213 361.5h1M213 364.5h1M214 348.5h1M214 350.5h1M214 351.5h1M214 352.5h1M214 353.5h1M214 354.5h1M214 356.5h1M214 357.5h1M214 358.5h1M214 360.5h1M215 349.5h1M215 351.5h1M215 352.5h1M215 353.5h1M215 354.5h1M215 355.5h1M215 356.5h1M215 357.5h1M215 358.5h1M215 360.5h1M215 361.5h1M215 362.5h1M215 363.5h1M215 364.5h1M216 348.5h1M216 349.5h1M216 351.5h1M216 352.5h1M216 353.5h1M216 355.5h1M216 356.5h1M216 358.5h1M216 359.5h1M216 360.5h1M216 362.5h1M216 366.5h1M217 350.5h1M217 352.5h1M217 353.5h1M217 354.5h1M217 355.5h1M217 356.5h1M217 357.5h1M217 358.5h1M217 359.5h1M217 360.5h1M217 362.5h1M217 363.5h1M217 366.5h1M218 349.5h1M218 351.5h1M218 352.5h1M218 353.5h1M218 354.5h1M218 355.5h1M218 356.5h1M218 357.5h1M218 358.5h1M218 359.5h1M218 360.5h1M218 361.5h1M218 362.5h1M218 363.5h1M219 350.5h1M219 351.5h1M219 353.5h1M219 354.5h1M219 355.5h1M219 356.5h1M219 357.5h1M219 358.5h1M219 359.5h1M219 360.5h1M219 361.5h1M219 362.5h1M219 363.5h1M220 350.5h1M220 351.5h1M220 352.5h1M220 353.5h1M220 354.5h1M220 355.5h1M220 356.5h1M220 357.5h1M220 358.5h1M220 359.5h1M220 360.5h1M220 361.5h1M220 362.5h1M221 347.5h1M221 350.5h1M221 351.5h1M221 352.5h1M221 353.5h1M221 354.5h1M221 356.5h1M221 357.5h1M221 358.5h1M221 359.5h1M221 360.5h1M221 361.5h1M221 362.5h1M221 364.5h1M222 351.5h1M222 352.5h1M222 353.5h1M222 354.5h1M222 355.5h1M222 356.5h1M222 357.5h1M222 358.5h1M222 359.5h1M222 360.5h1M222 361.5h1M222 362.5h1M223 350.5h1M223 352.5h1M223 353.5h1M223 354.5h1M223 355.5h1M223 356.5h1M223 357.5h1M223 358.5h1M223 359.5h1M223 360.5h1M223 362.5h1M223 363.5h1M224 349.5h1M224 351.5h1M224 352.5h1M224 353.5h1M224 354.5h1M224 356.5h1M224 357.5h1M224 358.5h1M224 359.5h1M224 360.5h1M224 362.5h1M225 351.5h1M225 352.5h1M225 353.5h1M225 354.5h1M225 355.5h1M225 356.5h1M225 358.5h1M225 359.5h1M225 360.5h1M225 361.5h1M225 362.5h1M225 364.5h1M226 348.5h1M226 349.5h1M226 351.5h1M226 352.5h1M226 353.5h1M226 355.5h1M226 356.5h1M226 357.5h1M226 358.5h1M226 359.5h1M226 360.5h1M226 361.5h1M227 350.5h1M227 352.5h1M227 353.5h1M227 354.5h1M227 355.5h1M227 356.5h1M227 358.5h1M227 359.5h1M227 360.5h1M227 362.5h1M227 363.5h1M227 365.5h1M228 348.5h1M228 352.5h1M228 353.5h1M228 354.5h1M228 355.5h1M228 356.5h1M228 357.5h1M228 359.5h1M228 360.5h1M228 361.5h1M228 363.5h1M229 347.5h1M229 349.5h1M229 350.5h1M229 351.5h1M229 352.5h1M229 353.5h1M229 354.5h1M229 355.5h1M229 356.5h1M229 357.5h1M229 359.5h1M229 360.5h1M229 361.5h1M229 362.5h1M230 349.5h1M230 350.5h1M230 352.5h1M230 353.5h1M230 354.5h1M230 355.5h1M230 356.5h1M230 357.5h1M230 359.5h1M230 360.5h1M230 364.5h1M231 349.5h1M231 350.5h1M231 352.5h1M231 353.5h1M231 354.5h1M231 355.5h1M231 356.5h1M231 357.5h1M231 358.5h1M231 359.5h1M231 360.5h1M231 361.5h1M231 362.5h1M231 365.5h1M232 347.5h1M232 348.5h1M232 351.5h1M232 352.5h1M232 353.5h1M232 354.5h1M232 355.5h1M232 356.5h1M232 357.5h1M232 358.5h1M232 360.5h1M232 361.5h1M232 362.5h1M233 351.5h1M233 352.5h1M233 353.5h1M233 354.5h1M233 356.5h1M233 357.5h1M233 358.5h1M233 359.5h1M233 360.5h1M233 361.5h1M233 363.5h1M234 349.5h1M234 351.5h1M234 352.5h1M234 354.5h1M234 355.5h1M234 356.5h1M234 357.5h1M234 358.5h1M234 359.5h1M234 360.5h1M234 361.5h1M235 347.5h1M235 353.5h1M235 355.5h1M235 356.5h1M235 357.5h1M235 359.5h1M235 360.5h1M235 361.5h1M236 349.5h1M236 352.5h1M236 353.5h1M236 356.5h1M236 357.5h1M236 358.5h1M236 359.5h1M236 362.5h1M237 349.5h1M237 353.5h1M237 354.5h1M237 355.5h1M237 356.5h1M237 357.5h1M237 358.5h1M237 359.5h1M237 360.5h1M237 361.5h1M238 353.5h1M238 354.5h1M238 355.5h1M238 359.5h1M238 360.5h1M239 350.5h1M239 352.5h1M239 353.5h1M239 355.5h1M239 356.5h1M239 357.5h1M239 359.5h1M239 360.5h1M239 361.5h1M240 351.5h1M240 353.5h1M240 354.5h1M240 355.5h1M240 357.5h1M240 360.5h1M240 361.5h1M240 362.5h1M241 352.5h1M241 353.5h1M241 354.5h1M241 357.5h1M241 358.5h1M241 360.5h1M242 348.5h1M242 352.5h1M242 354.5h1M242 355.5h1M242 357.5h1M242 358.5h1M242 361.5h1M242 362.5h1M243 351.5h1M243 352.5h1M243 353.5h1M243 354.5h1M243 355.5h1M243 358.5h1M243 360.5h1M243 361.5h1M243 363.5h1M244 351.5h1M244 352.5h1M244 353.5h1M244 354.5h1M244 355.5h1M244 356.5h1M244 357.5h1M244 359.5h1M245 352.5h1M245 353.5h1M245 354.5h1M245 355.5h1M245 357.5h1M245 358.5h1M245 361.5h1M245 362.5h1M246 352.5h1M246 357.5h1M246 358.5h1M247 355.5h1M247 356.5h1M247 357.5h1M247 359.5h1M248 357.5h1M248 358.5h1M248 359.5h1M249 354.5h1M249 357.5h1M249 358.5h1M250 346.5h1M250 355.5h1M250 358.5h1M251 354.5h1M251 357.5h1M251 359.5h1M252 352.5h1M252 355.5h1M252 356.5h1M253 354.5h1M253 355.5h1M253 356.5h1M253 357.5h1M253 358.5h1M254 347.5h1M254 358.5h1M254 360.5h1M255 355.5h1M255 361.5h1M256 352.5h1M256 354.5h1M257 353.5h1M257 354.5h1M258 357.5h1M259 352.5h1M259 354.5h1M261 360.5h1" stroke="#262626" stroke-width="1.0" stroke-opacity="1" fill="none"/>
<path d="M196 358.5h1M197 355.5h1M197 358.5h1M197 359.5h1M198 353.5h1M198 356.5h1M198 357.5h1M199 353.5h1M199 354.5h1M199 357.5h1M199 361.5h1M200 355.5h1M200 356.5h1M200 357.5h1M200 358.5h1M200 360.5h1M201 352.5h1M201 354.5h1M201 355.5h1M201 357.5h1M201 358.5h1M202 352.5h1M202 353.5h1M202 354.5h1M202 355.5h1M202 356.5h1M202 358.5h1M203 352.5h1M203 353.5h1M203 354.5h1M203 355.5h1M203 356.5h1M203 359.5h1M204 350.5h1M204 352.5h1M204 353.5h1M204 354.5h1M204 355.5h1M204 356.5h1M204 357.5h1M204 359.5h1M205 350.5h1M205 351.5h1M205 354.5h1M205 355.5h1M205 358.5h1M205 359.5h1M205 364.5h1M206 354.5h1M206 355.5h1M206 356.5h1M206 357.5h1M206 358.5h1M206 359.5h1M206 362.5h1M207 352.5h1M207 353.5h1M207 354.5h1M207 355.5h1M207 356.5h1M207 357.5h1M207 358.5h1M207 360.5h1M208 349.5h1M208 351.5h1M208 353.5h1M208 356.5h1M208 357.5h1M208 358.5h1M208 359.5h1M208 360.5h1M208 363.5h1M209 353.5h1M209 355.5h1M209 356.5h1M209 357.5h1M209 358.5h1M209 359.5h1M209 360.5h1M209 362.5h1M210 354.5h1M210 356.5h1M210 357.5h1M210 358.5h1M210 359.5h1M210 361.5h1M211 348.5h1M211 351.5h1M211 353.5h1M211 354.5h1M211 355.5h1M211 356.5h1M211 357.5h1M211 358.5h1M211 360.5h1M211 361.5h1M212 350.5h1M212 352.5h1M212 354.5h1M212 355.5h1M212 356.5h1M212 357.5h1M212 359.5h1M213 350.5h1M213 352.5h1M213 353.5h1M213 354.5h1M213 355.5h1M213 356.5h1M213 357.5h1M213 358.5h1M213 359.5h1M213 360.5h1M213 365.5h1M214 351.5h1M214 353.5h1M214 354.5h1M214 355.5h1M214 356.5h1M214 357.5h1M214 358.5h1M214 359.5h1M214 362.5h1M215 351.5h1M215 352.5h1M215 353.5h1M215 354.5h1M215 355.5h1M215 356.5h1M215 357.5h1M215 359.5h1M215 360.5h1M216 354.5h1M216 356.5h1M216 357.5h1M216 358.5h1M216 360.5h1M216 361.5h1M216 362.5h1M216 365.5h1M217 351.5h1M217 353.5h1M217 354.5h1M217 355.5h1M217 356.5h1M217 357.5h1M217 358.5h1M217 359.5h1M217 360.5h1M217 361.5h1M218 351.5h1M218 352.5h1M218 353.5h1M218 354.5h1M218 355.5h1M218 356.5h1M218 357.5h1M218 358.5h1M218 359.5h1M218 360.5h1M218 362.5h1M218 363.5h1M218 365.5h1M219 352.5h1M219 353.5h1M219 354.5h1M219 355.5h1M219 356.5h1M219 357.5h1M219 358.5h1M219 359.5h1M219 361.5h1M219 362.5h1M220 353.5h1M220 354.5h1M220 355.5h1M220 356.5h1M220 357.5h1M220 358.5h1M220 359.5h1M220 360.5h1M220 361.5h1M220 364.5h1M221 351.5h1M221 354.5h1M221 355.5h1M221 356.5h1M221 357.5h1M221 359.5h1M221 360.5h1M221 366.5h1M222 354.5h1M222 355.5h1M222 356.5h1M222 357.5h1M222 358.5h1M222 360.5h1M223 351.5h1M223 352.5h1M223 353.5h1M223 354.5h1M223 355.5h1M223 356.5h1M223 357.5h1M223 358.5h1M223 359.5h1M224 354.5h1M224 355.5h1M224 356.5h1M224 357.5h1M224 358.5h1M224 360.5h1M224 361.5h1M225 351.5h1M225 352.5h1M225 354.5h1M225 355.5h1M225 356.5h1M225 357.5h1M225 358.5h1M225 359.5h1M225 361.5h1M226 353.5h1M226 354.5h1M226 355.5h1M226 356.5h1M226 357.5h1M226 358.5h1M226 360.5h1M227 353.5h1M227 354.5h1M227 355.5h1M227 356.5h1M227 357.5h1M227 359.5h1M228 350.5h1M228 353.5h1M228 354.5h1M228 356.5h1M228 358.5h1M229 350.5h1M229 351.5h1M229 352.5h1M229 354.5h1M229 355.5h1M229 356.5h1M229 357.5h1M229 358.5h1M230 354.5h1M230 355.5h1M230 356.5h1M230 357.5h1M230 358.5h1M230 359.5h1M231 349.5h1M231 352.5h1M231 355.5h1M231 357.5h1M231 358.5h1M231 359.5h1M231 360.5h1M232 349.5h1M232 351.5h1M232 353.5h1M232 356.5h1M232 358.5h1M232 359.5h1M233 354.5h1M234 353.5h1M234 355.5h1M235 351.5h1M236 355.5h1M237 355.5h1M237 360.5h1M238 357.5h1M238 358.5h1M239 358.5h1" stroke="#000" stroke-width="1.0" stroke-opacity="1" fill="none"/>
<rect x="237.9" y="346.4" width="20.7" height="8.6" fill="#fff"/>
<rect x="194.8" y="271" width="123.5" height="97.0" fill="none" stroke="#141414" stroke-width="1"/>
<line x1="258.8" y1="271" x2="258.8" y2="368.0" stroke="#2a2a2a" stroke-width="0.9"/>
<line x1="194.8" y1="344.9" x2="318.3" y2="344.9" stroke="#2a2a2a" stroke-width="0.9"/>
<line x1="191.60000000000002" y1="271.0" x2="194.8" y2="271.0" stroke="#141414" stroke-width="1"/>
<line x1="194.8" y1="368.0" x2="194.8" y2="371.4" stroke="#141414" stroke-width="1"/>
<line x1="191.60000000000002" y1="295.25" x2="194.8" y2="295.25" stroke="#141414" stroke-width="1"/>
<line x1="225.675" y1="368.0" x2="225.675" y2="371.4" stroke="#141414" stroke-width="1"/>
<line x1="191.60000000000002" y1="319.5" x2="194.8" y2="319.5" stroke="#141414" stroke-width="1"/>
<line x1="256.55" y1="368.0" x2="256.55" y2="371.4" stroke="#141414" stroke-width="1"/>
<line x1="191.60000000000002" y1="343.75" x2="194.8" y2="343.75" stroke="#141414" stroke-width="1"/>
<line x1="287.425" y1="368.0" x2="287.425" y2="371.4" stroke="#141414" stroke-width="1"/>
<line x1="191.60000000000002" y1="368.0" x2="194.8" y2="368.0" stroke="#141414" stroke-width="1"/>
<line x1="318.3" y1="368.0" x2="318.3" y2="371.4" stroke="#141414" stroke-width="1"/>
<text x="256.0" y="280.5" font-family='"Liberation Sans", sans-serif' font-size="10" text-anchor="end" fill="#141414" stroke="#141414" stroke-width="0.22">4.9</text>
<text x="314.3" y="280.5" font-family='"Liberation Sans", sans-serif' font-size="10" text-anchor="end" fill="#141414" stroke="#141414" stroke-width="0.22">9.6</text>
<text x="258.6" y="354" font-family='"Liberation Sans", sans-serif' font-size="10" text-anchor="end" fill="#141414" stroke="#141414" stroke-width="0.22">74.8</text>
<text x="314.8" y="354" font-family='"Liberation Sans", sans-serif' font-size="10" text-anchor="end" fill="#141414" stroke="#141414" stroke-width="0.22">10.7</text>
<path d="M339 288.5h1M341 285.5h1M341 286.5h1M342 288.5h1M342 289.5h1M342 291.5h1M343 285.5h1M343 290.5h1M343 291.5h1M345 285.5h1M345 286.5h1M345 287.5h1M346 286.5h1M346 288.5h1M346 291.5h1M346 293.5h1M347 285.5h1M347 289.5h1M347 292.5h1M349 285.5h1M349 286.5h1M350 285.5h1M350 286.5h1M350 287.5h1M351 289.5h1M352 289.5h1M354 285.5h1M357 286.5h1M360 286.5h1" stroke="#cacaca" stroke-width="1.0" stroke-opacity="1" fill="none"/>
<path d="M400 272.5h1M402 285.5h1M407 291.5h1M408 285.5h1M410 285.5h1M411 286.5h1M411 289.5h1M412 276.5h1M412 281.5h1M413 286.5h1M413 287.5h1M413 294.5h1M416 285.5h1M416 290.5h1M417 281.5h1M418 286.5h1M418 287.5h1M419 285.5h1M419 289.5h1M419 290.5h1M419 300.5h1M420 283.5h1M420 287.5h1M420 297.5h1M421 285.5h1M421 287.5h1M422 285.5h1M423 285.5h1M423 286.5h1M423 290.5h1M424 277.5h1M425 287.5h1M425 293.5h1M426 293.5h1M427 286.5h1M428 282.5h1M428 285.5h1M428 292.5h1M430 285.5h1M430 286.5h1M430 288.5h1M431 289.5h1M433 281.5h1M433 289.5h1M433 291.5h1M435 279.5h1M435 288.5h1M435 289.5h1M435 290.5h1M436 287.5h1M438 279.5h1M438 286.5h1M439 277.5h1M439 283.5h1M440 293.5h1M441 289.5h1M441 292.5h1M441 302.5h1M443 282.5h1M445 297.5h1M446 291.5h1M447 277.5h1M447 290.5h1M447 292.5h1M449 283.5h1M449 291.5h1M453 291.5h1" stroke="#cacaca" stroke-width="1.0" stroke-opacity="1" fill="none"/>
<path d="M375 303.5h1M385 300.5h1M406 309.5h1M409 316.5h1M413 332.5h1M422 316.5h1M422 327.5h1M423 299.5h1M424 307.5h1M429 311.5h1" stroke="#cacaca" stroke-width="1.0" stroke-opacity="1" fill="none"/>
<path d="M400 351.5h1M401 354.5h1M401 356.5h1M401 357.5h1M404 357.5h1M405 353.5h1M405 358.5h1M405 364.5h1M406 353.5h1M406 356.5h1M406 361.5h1M407 350.5h1M407 352.5h1M407 360.5h1M408 355.5h1M408 357.5h1M408 358.5h1M408 359.5h1M409 347.5h1M409 356.5h1M410 359.5h1M411 353.5h1M411 362.5h1M412 353.5h1M413 354.5h1M414 345.5h1M414 351.5h1M414 353.5h1M414 357.5h1M415 349.5h1M415 351.5h1M415 355.5h1M415 363.5h1M416 352.5h1M416 356.5h1M416 357.5h1M416 363.5h1M417 350.5h1M417 351.5h1M417 353.5h1M418 351.5h1M418 353.5h1M419 349.5h1M419 351.5h1M419 352.5h1M419 353.5h1M419 354.5h1M419 355.5h1M419 359.5h1M420 349.5h1M420 352.5h1M420 354.5h1M420 355.5h1M420 356.5h1M420 358.5h1M420 359.5h1M421 349.5h1M421 352.5h1M421 353.5h1M421 354.5h1M421 357.5h1M422 351.5h1M422 352.5h1M422 355.5h1M422 356.5h1M423 355.5h1M423 356.5h1M423 360.5h1M423 361.5h1M424 348.5h1M424 350.5h1M424 357.5h1M424 358.5h1M424 360.5h1M425 353.5h1M425 354.5h1M425 355.5h1M425 358.5h1M426 353.5h1M426 359.5h1M427 349.5h1M427 350.5h1M427 354.5h1M427 358.5h1M427 362.5h1M428 347.5h1M428 351.5h1M428 353.5h1M428 359.5h1M429 357.5h1M429 359.5h1M430 353.5h1M430 357.5h1M430 358.5h1M430 359.5h1M430 361.5h1M431 351.5h1M431 358.5h1M431 359.5h1M432 349.5h1M432 356.5h1M432 361.5h1M433 348.5h1M433 351.5h1M433 354.5h1M433 355.5h1M434 349.5h1M434 354.5h1M434 355.5h1M434 356.5h1M435 347.5h1M435 351.5h1M435 361.5h1M436 351.5h1M436 357.5h1M437 352.5h1M437 354.5h1M438 358.5h1M439 348.5h1M439 351.5h1M439 354.5h1M439 355.5h1M439 357.5h1M439 359.5h1M440 360.5h1M441 351.5h1M441 354.5h1M441 356.5h1M441 357.5h1M441 364.5h1M442 348.5h1M443 355.5h1M444 354.5h1M445 356.5h1M446 351.5h1M446 355.5h1M447 357.5h1M447 359.5h1M448 349.5h1M448 362.5h1M451 355.5h1M452 352.5h1M452 357.5h1M453 352.5h1" stroke="#a8a8a8" stroke-width="1.0" stroke-opacity="1" fill="none"/>
<path d="M407 290.5h1M412 292.5h1M413 287.5h1M416 289.5h1M417 287.5h1M417 288.5h1M419 289.5h1M420 287.5h1M420 288.5h1M420 291.5h1M421 291.5h1M422 288.5h1M422 290.5h1M423 286.5h1M424 291.5h1M425 287.5h1M425 289.5h1M425 292.5h1M427 288.5h1M427 289.5h1M427 290.5h1M428 291.5h1M430 287.5h1M431 291.5h1M432 286.5h1M432 288.5h1M432 290.5h1M432 292.5h1M432 293.5h1M433 287.5h1M433 290.5h1M433 291.5h1M433 293.5h1M434 288.5h1M434 289.5h1M434 290.5h1M436 286.5h1M436 288.5h1M437 288.5h1M437 290.5h1M438 288.5h1M438 289.5h1M441 288.5h1M443 292.5h1M444 289.5h1M444 291.5h1M445 289.5h1M449 289.5h1" stroke="#a8a8a8" stroke-width="1.0" stroke-opacity="1" fill="none"/>
<path d="M334 359.5h1M335 358.5h1M335 364.5h1M336 357.5h1M336 360.5h1M337 349.5h1M337 354.5h1M337 360.5h1M338 353.5h1M338 354.5h1M338 356.5h1M338 357.5h1M338 358.5h1M338 362.5h1M338 364.5h1M339 350.5h1M339 356.5h1M339 362.5h1M340 355.5h1M340 356.5h1M340 357.5h1M340 359.5h1M342 352.5h1M342 357.5h1M342 359.5h1M342 362.5h1M343 355.5h1M343 356.5h1M343 361.5h1M343 363.5h1M344 353.5h1M344 357.5h1M344 362.5h1M344 363.5h1M345 349.5h1M345 351.5h1M345 353.5h1M345 356.5h1M345 358.5h1M345 359.5h1M345 360.5h1M345 363.5h1M345 364.5h1M346 353.5h1M346 355.5h1M346 358.5h1M346 360.5h1M346 362.5h1M346 365.5h1M347 350.5h1M347 359.5h1M348 350.5h1M348 355.5h1M348 356.5h1M348 359.5h1M348 360.5h1M349 349.5h1M349 353.5h1M349 356.5h1M349 358.5h1M350 348.5h1M350 352.5h1M350 355.5h1M350 359.5h1M351 353.5h1M351 354.5h1M351 357.5h1M351 358.5h1M351 359.5h1M351 361.5h1M351 364.5h1M352 348.5h1M352 352.5h1M352 353.5h1M352 354.5h1M352 356.5h1M352 357.5h1M352 358.5h1M352 362.5h1M352 364.5h1M353 348.5h1M353 351.5h1M353 352.5h1M353 354.5h1M353 356.5h1M353 358.5h1M353 360.5h1M354 348.5h1M354 356.5h1M354 357.5h1M354 359.5h1M354 361.5h1M355 346.5h1M355 351.5h1M355 352.5h1M355 353.5h1M355 358.5h1M355 364.5h1M356 347.5h1M356 351.5h1M356 353.5h1M356 357.5h1M356 358.5h1M356 360.5h1M356 361.5h1M356 363.5h1M357 345.5h1M357 353.5h1M357 354.5h1M357 357.5h1M357 359.5h1M358 350.5h1M358 353.5h1M358 356.5h1M358 357.5h1M358 360.5h1M358 361.5h1M358 362.5h1M358 363.5h1M359 353.5h1M359 354.5h1M359 357.5h1M359 358.5h1M359 359.5h1M359 360.5h1M359 362.5h1M359 364.5h1M360 354.5h1M360 358.5h1M360 359.5h1M360 363.5h1M361 351.5h1M361 352.5h1M361 358.5h1M361 361.5h1M361 364.5h1M362 356.5h1M362 357.5h1M362 358.5h1M362 359.5h1M362 360.5h1M363 348.5h1M363 352.5h1M363 353.5h1M363 354.5h1M363 355.5h1M363 356.5h1M363 357.5h1M363 358.5h1M363 360.5h1M364 353.5h1M364 358.5h1M364 360.5h1M364 361.5h1M364 362.5h1M364 365.5h1M365 349.5h1M365 350.5h1M365 353.5h1M365 355.5h1M365 358.5h1M365 359.5h1M365 360.5h1M365 362.5h1M365 364.5h1M366 351.5h1M366 352.5h1M366 356.5h1M367 355.5h1M367 356.5h1M367 360.5h1M367 361.5h1M367 362.5h1M367 365.5h1M368 349.5h1M368 352.5h1M368 356.5h1M368 358.5h1M368 359.5h1M368 360.5h1M368 362.5h1M369 351.5h1M369 352.5h1M369 356.5h1M370 353.5h1M370 354.5h1M370 356.5h1M370 357.5h1M370 358.5h1M370 359.5h1M371 350.5h1M371 353.5h1M371 355.5h1M371 356.5h1M371 357.5h1M371 358.5h1M371 360.5h1M371 364.5h1M372 353.5h1M372 356.5h1M372 358.5h1M372 361.5h1M372 363.5h1M372 364.5h1M372 365.5h1M373 347.5h1M373 354.5h1M373 355.5h1M373 356.5h1M373 357.5h1M373 358.5h1M373 359.5h1M373 360.5h1M373 361.5h1M373 365.5h1M374 348.5h1M374 356.5h1M374 357.5h1M374 359.5h1M375 352.5h1M375 355.5h1M375 356.5h1M375 359.5h1M375 360.5h1M375 361.5h1M376 351.5h1M376 353.5h1M376 355.5h1M376 356.5h1M376 357.5h1M376 359.5h1M376 361.5h1M376 362.5h1M377 346.5h1M377 354.5h1M377 360.5h1M377 362.5h1M378 351.5h1M378 353.5h1M378 354.5h1M378 356.5h1M378 357.5h1M378 359.5h1M378 360.5h1M378 361.5h1M378 365.5h1M379 348.5h1M379 351.5h1M379 353.5h1M379 355.5h1M379 364.5h1M380 355.5h1M380 358.5h1M380 362.5h1M381 350.5h1M381 358.5h1M381 359.5h1M381 362.5h1M382 354.5h1M382 357.5h1M383 349.5h1M383 357.5h1M384 355.5h1M384 358.5h1M384 361.5h1M385 352.5h1M385 364.5h1M386 350.5h1M386 352.5h1M386 358.5h1M386 360.5h1M387 359.5h1M387 361.5h1M387 362.5h1M387 366.5h1M388 347.5h1M388 350.5h1M388 354.5h1M388 355.5h1M388 359.5h1M388 365.5h1M389 356.5h1M389 359.5h1M389 360.5h1M389 361.5h1M390 356.5h1M390 358.5h1M391 355.5h1M391 359.5h1M392 356.5h1M392 358.5h1M392 363.5h1M393 350.5h1M393 353.5h1M393 362.5h1M394 362.5h1M395 346.5h1M395 352.5h1M395 353.5h1M396 354.5h1M396 358.5h1M399 358.5h1M400 356.5h1" stroke="#707070" stroke-width="1.0" stroke-opacity="1" fill="none"/>
<path d="M399 355.5h1M401 354.5h1M402 354.5h1M402 357.5h1M403 351.5h1M403 353.5h1M403 359.5h1M404 357.5h1M406 361.5h1M407 354.5h1M407 355.5h1M407 363.5h1M408 355.5h1M408 356.5h1M409 350.5h1M409 355.5h1M410 352.5h1M411 347.5h1M411 356.5h1M412 348.5h1M412 353.5h1M412 355.5h1M413 350.5h1M413 360.5h1M414 349.5h1M414 360.5h1M415 358.5h1M415 359.5h1M416 350.5h1M416 354.5h1M416 357.5h1M417 351.5h1M418 353.5h1M418 355.5h1M418 358.5h1M419 354.5h1M419 357.5h1M420 349.5h1M420 354.5h1M421 355.5h1M423 349.5h1M423 351.5h1M423 353.5h1M424 350.5h1M424 352.5h1M424 358.5h1M425 356.5h1M426 357.5h1M426 358.5h1M427 347.5h1M427 349.5h1M427 351.5h1M427 358.5h1M427 363.5h1M428 351.5h1M428 352.5h1M428 356.5h1M428 357.5h1M429 353.5h1M430 352.5h1M430 357.5h1M430 360.5h1M431 353.5h1M431 356.5h1M432 355.5h1M432 362.5h1M433 350.5h1M437 353.5h1M438 361.5h1M440 352.5h1M443 351.5h1M443 356.5h1M446 356.5h1" stroke="#707070" stroke-width="1.0" stroke-opacity="1" fill="none"/>
<path d="M417 286.5h1M418 289.5h1M419 290.5h1M420 290.5h1M421 287.5h1M421 288.5h1M421 289.5h1M422 290.5h1M423 289.5h1M423 290.5h1M423 291.5h1M425 287.5h1M425 289.5h1M426 288.5h1M426 289.5h1M426 290.5h1M427 289.5h1M427 290.5h1M428 289.5h1M428 290.5h1M429 288.5h1M429 290.5h1M429 291.5h1M430 288.5h1M430 289.5h1M430 291.5h1M431 287.5h1M431 289.5h1M432 289.5h1M433 288.5h1M433 290.5h1M433 292.5h1M434 289.5h1M434 291.5h1M435 287.5h1M435 289.5h1M435 290.5h1M437 291.5h1M438 289.5h1" stroke="#707070" stroke-width="1.0" stroke-opacity="1" fill="none"/>
<path d="M334 353.5h1M334 354.5h1M334 358.5h1M334 360.5h1M334 366.5h1M335 353.5h1M335 357.5h1M335 358.5h1M335 359.5h1M336 358.5h1M336 360.5h1M336 362.5h1M337 354.5h1M337 355.5h1M337 356.5h1M337 357.5h1M337 359.5h1M337 361.5h1M337 362.5h1M338 354.5h1M338 357.5h1M338 359.5h1M338 360.5h1M338 363.5h1M339 354.5h1M339 355.5h1M339 356.5h1M339 357.5h1M339 359.5h1M339 360.5h1M339 361.5h1M339 362.5h1M340 353.5h1M340 354.5h1M340 355.5h1M340 356.5h1M340 357.5h1M340 358.5h1M340 362.5h1M341 352.5h1M341 353.5h1M341 356.5h1M341 357.5h1M341 358.5h1M341 359.5h1M341 360.5h1M341 362.5h1M341 364.5h1M342 347.5h1M342 348.5h1M342 351.5h1M342 352.5h1M342 354.5h1M342 355.5h1M342 356.5h1M342 357.5h1M342 358.5h1M342 359.5h1M342 361.5h1M343 351.5h1M343 352.5h1M343 355.5h1M343 356.5h1M343 357.5h1M343 358.5h1M343 360.5h1M343 364.5h1M344 349.5h1M344 351.5h1M344 352.5h1M344 353.5h1M344 354.5h1M344 355.5h1M344 356.5h1M344 357.5h1M344 359.5h1M344 360.5h1M344 361.5h1M344 362.5h1M345 349.5h1M345 350.5h1M345 354.5h1M345 357.5h1M345 358.5h1M345 359.5h1M345 361.5h1M345 362.5h1M345 363.5h1M345 365.5h1M346 351.5h1M346 352.5h1M346 353.5h1M346 354.5h1M346 355.5h1M346 356.5h1M346 357.5h1M346 358.5h1M346 359.5h1M346 360.5h1M346 361.5h1M346 363.5h1M346 364.5h1M347 350.5h1M347 351.5h1M347 352.5h1M347 353.5h1M347 354.5h1M347 355.5h1M347 356.5h1M347 357.5h1M347 358.5h1M347 359.5h1M347 360.5h1M347 361.5h1M347 362.5h1M347 363.5h1M348 351.5h1M348 352.5h1M348 353.5h1M348 354.5h1M348 355.5h1M348 356.5h1M348 357.5h1M348 358.5h1M348 359.5h1M348 360.5h1M348 361.5h1M348 362.5h1M348 365.5h1M349 348.5h1M349 350.5h1M349 351.5h1M349 353.5h1M349 354.5h1M349 355.5h1M349 356.5h1M349 357.5h1M349 358.5h1M349 359.5h1M349 360.5h1M349 362.5h1M350 351.5h1M350 352.5h1M350 353.5h1M350 354.5h1M350 355.5h1M350 356.5h1M350 357.5h1M350 358.5h1M350 359.5h1M350 360.5h1M350 361.5h1M350 362.5h1M351 351.5h1M351 352.5h1M351 353.5h1M351 354.5h1M351 355.5h1M351 357.5h1M351 358.5h1M351 359.5h1M351 360.5h1M351 361.5h1M351 363.5h1M351 364.5h1M351 365.5h1M352 349.5h1M352 350.5h1M352 352.5h1M352 353.5h1M352 354.5h1M352 355.5h1M352 356.5h1M352 357.5h1M352 358.5h1M352 359.5h1M352 360.5h1M352 361.5h1M353 353.5h1M353 354.5h1M353 355.5h1M353 356.5h1M353 357.5h1M353 358.5h1M353 359.5h1M353 360.5h1M353 362.5h1M354 352.5h1M354 353.5h1M354 354.5h1M354 355.5h1M354 356.5h1M354 357.5h1M354 358.5h1M354 359.5h1M354 360.5h1M354 361.5h1M354 362.5h1M354 364.5h1M354 365.5h1M355 348.5h1M355 350.5h1M355 352.5h1M355 353.5h1M355 354.5h1M355 355.5h1M355 356.5h1M355 357.5h1M355 358.5h1M355 359.5h1M355 360.5h1M355 361.5h1M355 362.5h1M355 363.5h1M356 348.5h1M356 349.5h1M356 350.5h1M356 351.5h1M356 353.5h1M356 354.5h1M356 355.5h1M356 356.5h1M356 357.5h1M356 358.5h1M356 359.5h1M356 360.5h1M356 361.5h1M356 362.5h1M356 364.5h1M356 365.5h1M357 350.5h1M357 351.5h1M357 352.5h1M357 353.5h1M357 354.5h1M357 355.5h1M357 356.5h1M357 357.5h1M357 358.5h1M357 359.5h1M357 360.5h1M357 361.5h1M357 362.5h1M357 363.5h1M357 364.5h1M358 350.5h1M358 351.5h1M358 352.5h1M358 353.5h1M358 354.5h1M358 355.5h1M358 356.5h1M358 357.5h1M358 358.5h1M358 359.5h1M358 360.5h1M358 361.5h1M358 362.5h1M358 363.5h1M359 348.5h1M359 350.5h1M359 351.5h1M359 353.5h1M359 354.5h1M359 355.5h1M359 356.5h1M359 357.5h1M359 358.5h1M359 359.5h1M359 361.5h1M359 362.5h1M359 363.5h1M360 347.5h1M360 348.5h1M360 349.5h1M360 351.5h1M360 352.5h1M360 353.5h1M360 354.5h1M360 355.5h1M360 356.5h1M360 357.5h1M360 358.5h1M360 359.5h1M360 360.5h1M360 361.5h1M360 362.5h1M360 364.5h1M360 365.5h1M361 349.5h1M361 350.5h1M361 351.5h1M361 352.5h1M361 353.5h1M361 354.5h1M361 355.5h1M361 356.5h1M361 357.5h1M361 358.5h1M361 359.5h1M361 360.5h1M361 361.5h1M361 362.5h1M361 365.5h1M362 349.5h1M362 350.5h1M362 352.5h1M362 353.5h1M362 354.5h1M362 355.5h1M362 356.5h1M362 357.5h1M362 358.5h1M362 359.5h1M362 360.5h1M362 361.5h1M362 362.5h1M362 363.5h1M362 365.5h1M363 351.5h1M363 352.5h1M363 353.5h1M363 354.5h1M363 355.5h1M363 356.5h1M363 357.5h1M363 359.5h1M363 360.5h1M363 361.5h1M363 362.5h1M363 364.5h1M363 365.5h1M364 347.5h1M364 351.5h1M364 352.5h1M364 353.5h1M364 354.5h1M364 355.5h1M364 356.5h1M364 357.5h1M364 358.5h1M364 359.5h1M364 360.5h1M364 361.5h1M364 362.5h1M364 363.5h1M364 364.5h1M365 347.5h1M365 350.5h1M365 351.5h1M365 352.5h1M365 353.5h1M365 354.5h1M365 355.5h1M365 356.5h1M365 357.5h1M365 358.5h1M365 359.5h1M365 360.5h1M365 361.5h1M365 363.5h1M365 364.5h1M366 349.5h1M366 350.5h1M366 351.5h1M366 352.5h1M366 353.5h1M366 354.5h1M366 355.5h1M366 356.5h1M366 357.5h1M366 358.5h1M366 359.5h1M366 360.5h1M366 361.5h1M366 363.5h1M366 365.5h1M367 348.5h1M367 350.5h1M367 352.5h1M367 353.5h1M367 354.5h1M367 355.5h1M367 356.5h1M367 357.5h1M367 358.5h1M367 359.5h1M367 360.5h1M367 362.5h1M368 350.5h1M368 351.5h1M368 352.5h1M368 353.5h1M368 354.5h1M368 355.5h1M368 356.5h1M368 357.5h1M368 358.5h1M368 359.5h1M368 360.5h1M368 362.5h1M368 363.5h1M369 348.5h1M369 351.5h1M369 354.5h1M369 355.5h1M369 356.5h1M369 357.5h1M369 358.5h1M369 359.5h1M369 360.5h1M369 361.5h1M369 363.5h1M369 364.5h1M370 347.5h1M370 351.5h1M370 353.5h1M370 354.5h1M370 355.5h1M370 356.5h1M370 357.5h1M370 358.5h1M370 359.5h1M370 361.5h1M370 362.5h1M371 351.5h1M371 352.5h1M371 353.5h1M371 354.5h1M371 355.5h1M371 356.5h1M371 357.5h1M371 358.5h1M371 360.5h1M371 361.5h1M371 362.5h1M372 351.5h1M372 353.5h1M372 354.5h1M372 355.5h1M372 356.5h1M372 357.5h1M372 358.5h1M372 363.5h1M373 351.5h1M373 352.5h1M373 354.5h1M373 356.5h1M373 357.5h1M373 358.5h1M373 359.5h1M373 360.5h1M373 363.5h1M374 349.5h1M374 351.5h1M374 352.5h1M374 353.5h1M374 354.5h1M374 355.5h1M374 356.5h1M374 357.5h1M374 358.5h1M374 359.5h1M374 360.5h1M374 361.5h1M374 362.5h1M374 364.5h1M375 349.5h1M375 351.5h1M375 352.5h1M375 357.5h1M375 358.5h1M375 360.5h1M375 361.5h1M375 362.5h1M375 365.5h1M376 350.5h1M376 351.5h1M376 354.5h1M376 355.5h1M376 356.5h1M376 357.5h1M376 358.5h1M376 361.5h1M377 350.5h1M377 352.5h1M377 354.5h1M377 355.5h1M377 356.5h1M377 357.5h1M377 358.5h1M377 359.5h1M377 360.5h1M377 363.5h1M378 352.5h1M378 353.5h1M378 354.5h1M378 355.5h1M378 356.5h1M378 358.5h1M378 359.5h1M378 364.5h1M379 349.5h1M379 351.5h1M379 352.5h1M379 353.5h1M379 356.5h1M379 358.5h1M379 364.5h1M380 349.5h1M380 350.5h1M380 351.5h1M380 353.5h1M380 354.5h1M380 355.5h1M380 356.5h1M380 359.5h1M380 360.5h1M380 364.5h1M381 351.5h1M381 353.5h1M381 355.5h1M381 356.5h1M381 357.5h1M381 358.5h1M381 359.5h1M381 360.5h1M381 362.5h1M382 352.5h1M382 353.5h1M382 354.5h1M382 356.5h1M382 357.5h1M382 359.5h1M382 361.5h1M382 366.5h1M383 352.5h1M383 354.5h1M383 357.5h1M384 352.5h1M384 356.5h1M384 358.5h1M384 360.5h1M384 361.5h1M385 353.5h1M385 358.5h1M386 347.5h1M386 350.5h1M386 354.5h1M386 356.5h1M386 357.5h1M386 358.5h1M386 359.5h1M387 349.5h1M387 354.5h1M387 360.5h1M387 366.5h1M388 349.5h1M388 355.5h1M388 357.5h1M389 352.5h1M390 353.5h1M390 357.5h1M390 358.5h1M391 359.5h1M392 355.5h1M392 358.5h1M392 361.5h1M393 353.5h1M393 354.5h1M394 356.5h1M394 357.5h1M395 361.5h1M396 357.5h1M396 358.5h1M396 363.5h1M399 356.5h1M399 360.5h1" stroke="#262626" stroke-width="1.0" stroke-opacity="1" fill="none"/>
<path d="M334 355.5h1M334 357.5h1M334 358.5h1M334 359.5h1M334 363.5h1M335 354.5h1M335 355.5h1M335 356.5h1M336 350.5h1M336 353.5h1M336 354.5h1M336 355.5h1M336 357.5h1M336 358.5h1M336 360.5h1M337 356.5h1M337 359.5h1M337 361.5h1M338 351.5h1M338 352.5h1M338 353.5h1M338 355.5h1M338 356.5h1M338 358.5h1M338 360.5h1M338 363.5h1M339 353.5h1M339 354.5h1M339 355.5h1M339 356.5h1M339 357.5h1M339 358.5h1M339 359.5h1M339 360.5h1M339 363.5h1M339 365.5h1M340 352.5h1M340 355.5h1M340 358.5h1M340 359.5h1M340 362.5h1M341 351.5h1M341 352.5h1M341 354.5h1M341 355.5h1M341 356.5h1M341 357.5h1M341 358.5h1M341 359.5h1M341 360.5h1M341 361.5h1M341 362.5h1M342 350.5h1M342 352.5h1M342 353.5h1M342 354.5h1M342 355.5h1M342 356.5h1M342 358.5h1M342 359.5h1M342 360.5h1M343 355.5h1M343 356.5h1M343 357.5h1M343 358.5h1M343 359.5h1M343 360.5h1M343 363.5h1M344 350.5h1M344 352.5h1M344 354.5h1M344 355.5h1M344 356.5h1M344 357.5h1M344 358.5h1M344 359.5h1M344 360.5h1M344 361.5h1M345 352.5h1M345 353.5h1M345 354.5h1M345 355.5h1M345 356.5h1M345 358.5h1M345 359.5h1M345 360.5h1M345 362.5h1M346 351.5h1M346 353.5h1M346 355.5h1M346 356.5h1M346 357.5h1M346 358.5h1M346 359.5h1M346 360.5h1M346 361.5h1M346 364.5h1M347 349.5h1M347 350.5h1M347 352.5h1M347 353.5h1M347 354.5h1M347 355.5h1M347 356.5h1M347 357.5h1M347 358.5h1M347 359.5h1M347 360.5h1M347 361.5h1M347 362.5h1M348 347.5h1M348 352.5h1M348 353.5h1M348 354.5h1M348 355.5h1M348 356.5h1M348 357.5h1M348 358.5h1M348 359.5h1M348 360.5h1M348 361.5h1M348 362.5h1M348 363.5h1M349 351.5h1M349 352.5h1M349 353.5h1M349 354.5h1M349 355.5h1M349 356.5h1M349 357.5h1M349 358.5h1M349 359.5h1M349 360.5h1M349 361.5h1M349 362.5h1M349 363.5h1M350 352.5h1M350 354.5h1M350 355.5h1M350 356.5h1M350 357.5h1M350 358.5h1M350 359.5h1M350 360.5h1M350 362.5h1M351 352.5h1M351 353.5h1M351 354.5h1M351 355.5h1M351 356.5h1M351 357.5h1M351 358.5h1M351 359.5h1M351 360.5h1M351 361.5h1M351 363.5h1M351 364.5h1M352 350.5h1M352 351.5h1M352 352.5h1M352 353.5h1M352 354.5h1M352 355.5h1M352 356.5h1M352 357.5h1M352 358.5h1M352 359.5h1M352 360.5h1M352 361.5h1M353 349.5h1M353 350.5h1M353 352.5h1M353 353.5h1M353 354.5h1M353 355.5h1M353 356.5h1M353 357.5h1M353 358.5h1M353 360.5h1M353 361.5h1M354 351.5h1M354 353.5h1M354 354.5h1M354 355.5h1M354 356.5h1M354 357.5h1M354 358.5h1M354 359.5h1M354 360.5h1M354 362.5h1M354 366.5h1M355 348.5h1M355 349.5h1M355 350.5h1M355 351.5h1M355 353.5h1M355 354.5h1M355 355.5h1M355 356.5h1M355 357.5h1M355 358.5h1M355 359.5h1M355 360.5h1M355 361.5h1M356 352.5h1M356 353.5h1M356 354.5h1M356 355.5h1M356 356.5h1M356 357.5h1M356 358.5h1M356 359.5h1M356 360.5h1M356 362.5h1M357 354.5h1M357 355.5h1M357 356.5h1M357 358.5h1M357 359.5h1M357 361.5h1M357 362.5h1M357 363.5h1M358 353.5h1M358 354.5h1M358 355.5h1M358 356.5h1M358 357.5h1M358 358.5h1M358 359.5h1M358 362.5h1M359 349.5h1M359 353.5h1M359 355.5h1M359 356.5h1M359 357.5h1M359 358.5h1M359 359.5h1M359 361.5h1M360 348.5h1M360 354.5h1M360 355.5h1M360 357.5h1M360 359.5h1M361 354.5h1M361 355.5h1M361 356.5h1M361 357.5h1M361 358.5h1M361 359.5h1M361 360.5h1M362 352.5h1M362 355.5h1M362 357.5h1M362 358.5h1M362 361.5h1M362 362.5h1M363 353.5h1M363 356.5h1M363 357.5h1M363 358.5h1M363 359.5h1M363 361.5h1M364 354.5h1M364 355.5h1M364 357.5h1M364 364.5h1M365 353.5h1M365 357.5h1M365 359.5h1M366 349.5h1M366 355.5h1M366 358.5h1M367 351.5h1M367 355.5h1M368 357.5h1M368 358.5h1M368 360.5h1M369 354.5h1M370 359.5h1M371 357.5h1M373 355.5h1" stroke="#000" stroke-width="1.0" stroke-opacity="1" fill="none"/>
<rect x="376.6" y="346.4" width="20.7" height="8.6" fill="#fff"/>
<rect x="333.2" y="271" width="124.10000000000002" height="97.0" fill="none" stroke="#141414" stroke-width="1"/>
<line x1="398.5" y1="271" x2="398.5" y2="368.0" stroke="#2a2a2a" stroke-width="0.9"/>
<line x1="333.2" y1="344.9" x2="457.3" y2="344.9" stroke="#2a2a2a" stroke-width="0.9"/>
<line x1="330.0" y1="271.0" x2="333.2" y2="271.0" stroke="#141414" stroke-width="1"/>
<line x1="333.2" y1="368.0" x2="333.2" y2="371.4" stroke="#141414" stroke-width="1"/>
<line x1="330.0" y1="295.25" x2="333.2" y2="295.25" stroke="#141414" stroke-width="1"/>
<line x1="364.225" y1="368.0" x2="364.225" y2="371.4" stroke="#141414" stroke-width="1"/>
<line x1="330.0" y1="319.5" x2="333.2" y2="319.5" stroke="#141414" stroke-width="1"/>
<line x1="395.25" y1="368.0" x2="395.25" y2="371.4" stroke="#141414" stroke-width="1"/>
<line x1="330.0" y1="343.75" x2="333.2" y2="343.75" stroke="#141414" stroke-width="1"/>
<line x1="426.275" y1="368.0" x2="426.275" y2="371.4" stroke="#141414" stroke-width="1"/>
<line x1="330.0" y1="368.0" x2="333.2" y2="368.0" stroke="#141414" stroke-width="1"/>
<line x1="457.3" y1="368.0" x2="457.3" y2="371.4" stroke="#141414" stroke-width="1"/>
<text x="394.1" y="280.4" font-family='"Liberation Sans", sans-serif' font-size="10" text-anchor="end" fill="#141414" stroke="#141414" stroke-width="0.22">6.6</text>
<text x="454.40000000000003" y="280.4" font-family='"Liberation Sans", sans-serif' font-size="10" text-anchor="end" fill="#141414" stroke="#141414" stroke-width="0.22">12.3</text>
<text x="397.3" y="354" font-family='"Liberation Sans", sans-serif' font-size="10" text-anchor="end" fill="#141414" stroke="#141414" stroke-width="0.22">70.6</text>
<text x="454.8" y="354" font-family='"Liberation Sans", sans-serif' font-size="10" text-anchor="end" fill="#141414" stroke="#141414" stroke-width="0.22">10.5</text>
<path d="M141 422.5h1M141 427.5h1M141 449.5h1M142 411.5h1M143 433.5h1M144 421.5h1M144 422.5h1M144 424.5h1M144 425.5h1M145 406.5h1M145 412.5h1M145 421.5h1M145 424.5h1M146 405.5h1M146 419.5h1M146 420.5h1M146 428.5h1M146 435.5h1M147 399.5h1M147 409.5h1M147 413.5h1M147 418.5h1M147 420.5h1M147 423.5h1M147 428.5h1M147 431.5h1M147 433.5h1M147 434.5h1M147 438.5h1M148 407.5h1M148 410.5h1M148 414.5h1M148 423.5h1M149 414.5h1M149 418.5h1M149 423.5h1M150 419.5h1M150 427.5h1M152 409.5h1M152 413.5h1M152 417.5h1M152 424.5h1M154 415.5h1" stroke="#cacaca" stroke-width="1.0" stroke-opacity="1" fill="none"/>
<path d="M60 403.5h1M64 401.5h1M67 403.5h1M70 405.5h1M79 402.5h1M80 403.5h1M80 405.5h1M82 400.5h1" stroke="#cacaca" stroke-width="1.0" stroke-opacity="1" fill="none"/>
<path d="M129 473.5h1M131 468.5h1M133 469.5h1M133 474.5h1M135 466.5h1M136 461.5h1M136 464.5h1M136 468.5h1M136 470.5h1M137 460.5h1M137 468.5h1M137 469.5h1M137 472.5h1M138 463.5h1M138 466.5h1M139 459.5h1M139 465.5h1M139 467.5h1M139 474.5h1M140 464.5h1M140 466.5h1M140 477.5h1M141 461.5h1M141 463.5h1M141 464.5h1M141 474.5h1M142 460.5h1M142 466.5h1M142 468.5h1M142 469.5h1M142 474.5h1M143 462.5h1M143 463.5h1M143 465.5h1M143 466.5h1M143 471.5h1M144 464.5h1M144 465.5h1M144 467.5h1M144 468.5h1M144 470.5h1M144 475.5h1M145 466.5h1M145 467.5h1M145 468.5h1M145 469.5h1M145 470.5h1M145 471.5h1M146 462.5h1M146 464.5h1M146 466.5h1M146 467.5h1M146 472.5h1M146 473.5h1M147 464.5h1M147 466.5h1M147 468.5h1M147 469.5h1M148 461.5h1M148 464.5h1M148 469.5h1M148 471.5h1M148 472.5h1M148 476.5h1M149 462.5h1M149 464.5h1M149 465.5h1M149 466.5h1M149 468.5h1M149 469.5h1M149 475.5h1M150 464.5h1M150 465.5h1M150 466.5h1M150 467.5h1M150 468.5h1M150 473.5h1M151 463.5h1M151 464.5h1M151 465.5h1M151 467.5h1M151 468.5h1M151 469.5h1M151 470.5h1M152 462.5h1M152 465.5h1M152 467.5h1M152 472.5h1M152 473.5h1M153 460.5h1M153 461.5h1M153 462.5h1M153 464.5h1M153 468.5h1M153 469.5h1M153 472.5h1M154 466.5h1M154 468.5h1M154 470.5h1M154 471.5h1M155 464.5h1M155 467.5h1M155 469.5h1M155 473.5h1M156 464.5h1M156 467.5h1M156 469.5h1M156 470.5h1M157 468.5h1M157 469.5h1M158 469.5h1M158 471.5h1M159 472.5h1M159 473.5h1M161 466.5h1M161 476.5h1M162 465.5h1M166 468.5h1" stroke="#a8a8a8" stroke-width="1.0" stroke-opacity="1" fill="none"/>
<path d="M130 403.5h1M130 406.5h1M131 406.5h1M132 406.5h1M134 405.5h1M135 403.5h1M137 404.5h1M137 407.5h1M138 402.5h1M138 404.5h1M138 406.5h1M138 407.5h1M139 404.5h1M139 406.5h1M140 407.5h1M141 402.5h1M141 405.5h1M141 407.5h1M143 402.5h1M143 405.5h1M143 406.5h1M144 404.5h1M144 406.5h1M145 404.5h1M145 406.5h1M146 403.5h1M146 404.5h1M147 405.5h1M148 403.5h1M148 404.5h1M148 406.5h1M149 402.5h1M149 405.5h1M150 403.5h1M150 404.5h1M150 406.5h1M151 403.5h1M152 403.5h1M153 402.5h1M153 404.5h1M153 409.5h1M155 404.5h1M156 403.5h1M156 404.5h1M157 404.5h1M157 405.5h1M157 406.5h1M158 406.5h1M160 406.5h1M161 405.5h1M165 408.5h1M166 405.5h1M170 405.5h1" stroke="#a8a8a8" stroke-width="1.0" stroke-opacity="1" fill="none"/>
<path d="M62 465.5h1M67 462.5h1M68 475.5h1M69 472.5h1M70 465.5h1M71 469.5h1M72 476.5h1M75 467.5h1M75 470.5h1M76 469.5h1M76 475.5h1M77 462.5h1M77 471.5h1M77 474.5h1M77 478.5h1M78 468.5h1M78 478.5h1M79 469.5h1M80 474.5h1M83 478.5h1M84 459.5h1M84 466.5h1M84 476.5h1M85 461.5h1M85 462.5h1M85 465.5h1M85 471.5h1M85 473.5h1M86 466.5h1M86 467.5h1M86 468.5h1M86 470.5h1M86 471.5h1M86 474.5h1M87 463.5h1M87 464.5h1M87 467.5h1M87 472.5h1M88 469.5h1M88 470.5h1M88 471.5h1M88 472.5h1M88 473.5h1M89 465.5h1M89 467.5h1M89 468.5h1M89 473.5h1M89 475.5h1M90 464.5h1M90 466.5h1M90 470.5h1M90 471.5h1M90 476.5h1M91 468.5h1M91 470.5h1M92 462.5h1M92 472.5h1M93 464.5h1M93 466.5h1M93 467.5h1M94 468.5h1M94 469.5h1M94 472.5h1M95 466.5h1M95 469.5h1M95 471.5h1M95 472.5h1M95 473.5h1M96 463.5h1M96 465.5h1M96 466.5h1M96 472.5h1M96 476.5h1M97 464.5h1M97 466.5h1M97 471.5h1M97 473.5h1M98 466.5h1M98 468.5h1M98 469.5h1M98 470.5h1M98 474.5h1M99 462.5h1M99 463.5h1M99 468.5h1M99 471.5h1M99 472.5h1M99 474.5h1M99 475.5h1M100 467.5h1M100 469.5h1M100 471.5h1M100 474.5h1M100 476.5h1M100 479.5h1M101 467.5h1M101 468.5h1M101 469.5h1M102 466.5h1M102 469.5h1M102 472.5h1M103 464.5h1M103 469.5h1M103 475.5h1M104 460.5h1M104 469.5h1M104 472.5h1M105 465.5h1M105 468.5h1M105 470.5h1M105 471.5h1M105 472.5h1M105 477.5h1M106 466.5h1M106 467.5h1M106 470.5h1M107 468.5h1M107 472.5h1M107 473.5h1M108 465.5h1M108 469.5h1M108 473.5h1M108 475.5h1M111 463.5h1M112 467.5h1M112 472.5h1M114 467.5h1M114 470.5h1M114 471.5h1M118 466.5h1M118 476.5h1M119 474.5h1M119 477.5h1" stroke="#707070" stroke-width="1.0" stroke-opacity="1" fill="none"/>
<path d="M140 470.5h1M142 464.5h1M142 467.5h1M142 468.5h1M142 471.5h1M143 463.5h1M143 466.5h1M143 468.5h1M143 470.5h1M144 465.5h1M144 466.5h1M144 468.5h1M145 465.5h1M145 468.5h1M146 464.5h1M146 465.5h1M146 466.5h1M146 467.5h1M146 468.5h1M146 470.5h1M146 471.5h1M146 474.5h1M147 468.5h1M147 469.5h1M147 470.5h1M148 464.5h1M148 466.5h1M148 467.5h1M148 470.5h1M148 473.5h1M149 468.5h1M149 475.5h1M150 463.5h1M150 468.5h1M150 472.5h1M151 461.5h1M151 466.5h1M151 468.5h1M152 473.5h1M153 468.5h1M154 467.5h1M154 473.5h1M155 468.5h1" stroke="#707070" stroke-width="1.0" stroke-opacity="1" fill="none"/>
<path d="M139 404.5h1M140 403.5h1M142 402.5h1M142 403.5h1M142 407.5h1M143 404.5h1M145 406.5h1M146 402.5h1M146 404.5h1M146 405.5h1M146 406.5h1M147 404.5h1M147 405.5h1M148 406.5h1M150 406.5h1M151 407.5h1M152 404.5h1M152 405.5h1M153 404.5h1" stroke="#707070" stroke-width="1.0" stroke-opacity="1" fill="none"/>
<path d="M57 469.5h1M57 471.5h1M58 470.5h1M58 471.5h1M58 474.5h1M58 478.5h1M59 465.5h1M59 470.5h1M60 463.5h1M60 464.5h1M60 466.5h1M60 469.5h1M60 474.5h1M61 463.5h1M61 465.5h1M61 466.5h1M61 470.5h1M61 471.5h1M61 472.5h1M61 474.5h1M62 465.5h1M62 470.5h1M62 472.5h1M62 473.5h1M62 477.5h1M62 479.5h1M63 462.5h1M63 463.5h1M63 465.5h1M63 466.5h1M63 469.5h1M63 470.5h1M63 471.5h1M63 476.5h1M64 466.5h1M64 467.5h1M64 470.5h1M64 471.5h1M64 472.5h1M64 473.5h1M64 479.5h1M65 462.5h1M65 466.5h1M65 469.5h1M65 471.5h1M65 472.5h1M65 474.5h1M66 462.5h1M66 466.5h1M66 469.5h1M66 470.5h1M66 471.5h1M66 476.5h1M67 465.5h1M67 467.5h1M67 468.5h1M67 469.5h1M67 471.5h1M67 472.5h1M67 476.5h1M68 463.5h1M68 465.5h1M68 466.5h1M68 467.5h1M68 468.5h1M68 469.5h1M68 470.5h1M68 471.5h1M68 472.5h1M68 473.5h1M68 475.5h1M68 476.5h1M68 478.5h1M69 468.5h1M69 469.5h1M69 470.5h1M69 471.5h1M69 472.5h1M69 474.5h1M69 475.5h1M69 476.5h1M69 477.5h1M70 462.5h1M70 466.5h1M70 467.5h1M70 468.5h1M70 469.5h1M70 470.5h1M70 471.5h1M70 472.5h1M70 474.5h1M70 475.5h1M71 464.5h1M71 465.5h1M71 466.5h1M71 468.5h1M71 469.5h1M71 470.5h1M71 471.5h1M71 472.5h1M71 473.5h1M71 474.5h1M71 475.5h1M71 478.5h1M72 459.5h1M72 464.5h1M72 465.5h1M72 466.5h1M72 467.5h1M72 468.5h1M72 469.5h1M72 471.5h1M72 472.5h1M72 473.5h1M72 474.5h1M72 475.5h1M72 476.5h1M72 477.5h1M73 461.5h1M73 464.5h1M73 465.5h1M73 467.5h1M73 469.5h1M73 470.5h1M73 471.5h1M73 472.5h1M73 473.5h1M73 476.5h1M74 464.5h1M74 465.5h1M74 466.5h1M74 468.5h1M74 469.5h1M74 470.5h1M74 471.5h1M74 472.5h1M74 473.5h1M74 474.5h1M74 475.5h1M74 477.5h1M75 462.5h1M75 463.5h1M75 464.5h1M75 466.5h1M75 467.5h1M75 468.5h1M75 469.5h1M75 470.5h1M75 471.5h1M75 472.5h1M75 474.5h1M75 475.5h1M75 477.5h1M76 460.5h1M76 461.5h1M76 464.5h1M76 465.5h1M76 467.5h1M76 468.5h1M76 469.5h1M76 470.5h1M76 471.5h1M76 472.5h1M76 473.5h1M76 474.5h1M76 477.5h1M77 463.5h1M77 464.5h1M77 465.5h1M77 466.5h1M77 467.5h1M77 468.5h1M77 469.5h1M77 470.5h1M77 473.5h1M77 475.5h1M77 476.5h1M77 478.5h1M78 460.5h1M78 463.5h1M78 464.5h1M78 466.5h1M78 467.5h1M78 468.5h1M78 469.5h1M78 470.5h1M78 471.5h1M78 472.5h1M78 475.5h1M79 462.5h1M79 463.5h1M79 464.5h1M79 466.5h1M79 467.5h1M79 468.5h1M79 469.5h1M79 470.5h1M79 472.5h1M80 461.5h1M80 463.5h1M80 466.5h1M80 467.5h1M80 468.5h1M80 469.5h1M80 470.5h1M80 471.5h1M80 472.5h1M80 473.5h1M80 474.5h1M80 476.5h1M81 459.5h1M81 464.5h1M81 465.5h1M81 467.5h1M81 468.5h1M81 469.5h1M81 471.5h1M81 472.5h1M81 473.5h1M81 474.5h1M81 475.5h1M81 479.5h1M82 466.5h1M82 468.5h1M82 469.5h1M82 470.5h1M82 471.5h1M82 472.5h1M82 473.5h1M82 475.5h1M83 461.5h1M83 464.5h1M83 467.5h1M83 470.5h1M83 471.5h1M83 472.5h1M83 473.5h1M83 476.5h1M84 463.5h1M84 470.5h1M84 471.5h1M84 472.5h1M84 473.5h1M84 474.5h1M84 478.5h1M85 464.5h1M85 465.5h1M85 467.5h1M85 468.5h1M85 471.5h1M85 472.5h1M85 477.5h1M86 460.5h1M86 464.5h1M86 466.5h1M86 467.5h1M86 468.5h1M86 471.5h1M87 460.5h1M87 462.5h1M87 463.5h1M87 465.5h1M87 466.5h1M87 468.5h1M87 470.5h1M87 473.5h1M88 463.5h1M88 467.5h1M88 469.5h1M88 471.5h1M88 472.5h1M88 476.5h1M89 463.5h1M89 471.5h1M89 472.5h1M90 461.5h1M90 463.5h1M90 469.5h1M90 471.5h1M90 472.5h1M90 473.5h1M90 475.5h1M90 478.5h1M91 462.5h1M91 467.5h1M91 473.5h1M92 465.5h1M92 467.5h1M92 469.5h1M93 462.5h1M93 468.5h1M93 472.5h1M94 472.5h1M95 474.5h1M101 459.5h1" stroke="#262626" stroke-width="1.0" stroke-opacity="1" fill="none"/>
<path d="M143 471.5h1M144 467.5h1M145 466.5h1M145 468.5h1M146 466.5h1M146 467.5h1M146 469.5h1M146 470.5h1M147 467.5h1M147 469.5h1M147 470.5h1M148 466.5h1M148 467.5h1M148 469.5h1M149 466.5h1M149 467.5h1M149 468.5h1M149 469.5h1M150 469.5h1M151 466.5h1M151 470.5h1" stroke="#262626" stroke-width="1.0" stroke-opacity="1" fill="none"/>
<path d="M57 461.5h1M57 466.5h1M57 469.5h1M57 470.5h1M57 471.5h1M58 466.5h1M58 468.5h1M58 469.5h1M58 476.5h1M59 461.5h1M59 464.5h1M59 465.5h1M59 467.5h1M59 469.5h1M59 471.5h1M59 473.5h1M59 477.5h1M59 478.5h1M60 461.5h1M60 466.5h1M60 468.5h1M60 469.5h1M60 470.5h1M60 471.5h1M60 472.5h1M60 473.5h1M61 463.5h1M61 464.5h1M61 466.5h1M61 468.5h1M61 469.5h1M61 470.5h1M61 471.5h1M61 472.5h1M61 473.5h1M61 474.5h1M61 476.5h1M61 477.5h1M61 479.5h1M62 462.5h1M62 465.5h1M62 466.5h1M62 467.5h1M62 468.5h1M62 469.5h1M62 470.5h1M62 471.5h1M62 472.5h1M62 473.5h1M62 474.5h1M62 476.5h1M62 477.5h1M63 460.5h1M63 461.5h1M63 464.5h1M63 465.5h1M63 466.5h1M63 467.5h1M63 468.5h1M63 469.5h1M63 470.5h1M63 471.5h1M63 472.5h1M63 473.5h1M63 474.5h1M63 475.5h1M63 476.5h1M63 477.5h1M64 460.5h1M64 462.5h1M64 463.5h1M64 464.5h1M64 465.5h1M64 466.5h1M64 467.5h1M64 468.5h1M64 469.5h1M64 470.5h1M64 471.5h1M64 472.5h1M64 473.5h1M64 474.5h1M64 475.5h1M64 476.5h1M64 477.5h1M64 478.5h1M65 462.5h1M65 463.5h1M65 464.5h1M65 465.5h1M65 466.5h1M65 467.5h1M65 468.5h1M65 469.5h1M65 470.5h1M65 471.5h1M65 472.5h1M65 473.5h1M65 474.5h1M65 475.5h1M65 476.5h1M65 477.5h1M65 478.5h1M66 460.5h1M66 461.5h1M66 462.5h1M66 463.5h1M66 464.5h1M66 465.5h1M66 466.5h1M66 467.5h1M66 468.5h1M66 469.5h1M66 470.5h1M66 471.5h1M66 472.5h1M66 473.5h1M66 474.5h1M66 475.5h1M66 476.5h1M66 478.5h1M66 479.5h1M67 459.5h1M67 461.5h1M67 462.5h1M67 463.5h1M67 464.5h1M67 465.5h1M67 466.5h1M67 467.5h1M67 468.5h1M67 469.5h1M67 470.5h1M67 471.5h1M67 472.5h1M67 473.5h1M67 474.5h1M67 475.5h1M67 476.5h1M67 477.5h1M67 479.5h1M68 461.5h1M68 462.5h1M68 463.5h1M68 464.5h1M68 465.5h1M68 466.5h1M68 467.5h1M68 468.5h1M68 469.5h1M68 470.5h1M68 471.5h1M68 472.5h1M68 473.5h1M68 474.5h1M68 475.5h1M68 476.5h1M68 477.5h1M68 478.5h1M68 479.5h1M69 460.5h1M69 461.5h1M69 462.5h1M69 463.5h1M69 464.5h1M69 465.5h1M69 466.5h1M69 467.5h1M69 468.5h1M69 469.5h1M69 470.5h1M69 471.5h1M69 472.5h1M69 473.5h1M69 474.5h1M69 475.5h1M69 476.5h1M69 477.5h1M69 478.5h1M69 479.5h1M70 461.5h1M70 462.5h1M70 463.5h1M70 464.5h1M70 465.5h1M70 466.5h1M70 467.5h1M70 468.5h1M70 469.5h1M70 470.5h1M70 471.5h1M70 472.5h1M70 473.5h1M70 474.5h1M70 475.5h1M70 476.5h1M70 477.5h1M70 478.5h1M71 460.5h1M71 461.5h1M71 462.5h1M71 463.5h1M71 464.5h1M71 465.5h1M71 466.5h1M71 467.5h1M71 468.5h1M71 469.5h1M71 470.5h1M71 471.5h1M71 472.5h1M71 473.5h1M71 474.5h1M71 475.5h1M71 476.5h1M71 477.5h1M71 478.5h1M71 479.5h1M72 462.5h1M72 463.5h1M72 464.5h1M72 465.5h1M72 466.5h1M72 467.5h1M72 468.5h1M72 469.5h1M72 470.5h1M72 471.5h1M72 472.5h1M72 473.5h1M72 474.5h1M72 475.5h1M72 476.5h1M72 477.5h1M72 478.5h1M72 479.5h1M73 459.5h1M73 461.5h1M73 462.5h1M73 464.5h1M73 465.5h1M73 466.5h1M73 467.5h1M73 468.5h1M73 469.5h1M73 470.5h1M73 471.5h1M73 472.5h1M73 473.5h1M73 474.5h1M73 475.5h1M73 476.5h1M73 477.5h1M73 478.5h1M73 479.5h1M74 460.5h1M74 461.5h1M74 462.5h1M74 463.5h1M74 464.5h1M74 465.5h1M74 466.5h1M74 467.5h1M74 468.5h1M74 469.5h1M74 470.5h1M74 471.5h1M74 472.5h1M74 473.5h1M74 474.5h1M74 475.5h1M74 476.5h1M74 477.5h1M74 479.5h1M75 459.5h1M75 460.5h1M75 462.5h1M75 463.5h1M75 464.5h1M75 465.5h1M75 466.5h1M75 467.5h1M75 468.5h1M75 469.5h1M75 470.5h1M75 471.5h1M75 472.5h1M75 473.5h1M75 474.5h1M75 475.5h1M75 476.5h1M75 477.5h1M75 478.5h1M75 479.5h1M76 462.5h1M76 464.5h1M76 465.5h1M76 466.5h1M76 467.5h1M76 468.5h1M76 469.5h1M76 470.5h1M76 471.5h1M76 472.5h1M76 473.5h1M76 474.5h1M76 475.5h1M76 476.5h1M76 478.5h1M77 463.5h1M77 464.5h1M77 465.5h1M77 466.5h1M77 467.5h1M77 468.5h1M77 469.5h1M77 470.5h1M77 471.5h1M77 472.5h1M77 473.5h1M77 474.5h1M77 475.5h1M77 476.5h1M77 477.5h1M77 479.5h1M78 460.5h1M78 463.5h1M78 465.5h1M78 466.5h1M78 467.5h1M78 468.5h1M78 469.5h1M78 470.5h1M78 471.5h1M78 472.5h1M78 473.5h1M78 474.5h1M78 475.5h1M78 476.5h1M78 478.5h1M79 461.5h1M79 464.5h1M79 465.5h1M79 466.5h1M79 467.5h1M79 468.5h1M79 469.5h1M79 470.5h1M79 471.5h1M79 472.5h1M79 473.5h1M79 474.5h1M79 475.5h1M80 464.5h1M80 465.5h1M80 466.5h1M80 467.5h1M80 468.5h1M80 469.5h1M80 470.5h1M80 471.5h1M80 472.5h1M80 473.5h1M80 474.5h1M80 475.5h1M80 476.5h1M81 463.5h1M81 466.5h1M81 467.5h1M81 468.5h1M81 470.5h1M81 471.5h1M81 472.5h1M81 473.5h1M81 474.5h1M81 475.5h1M82 465.5h1M82 466.5h1M82 467.5h1M82 468.5h1M82 470.5h1M82 471.5h1M82 472.5h1M82 473.5h1M82 474.5h1M82 475.5h1M83 466.5h1M83 468.5h1M83 470.5h1M83 472.5h1M83 476.5h1M84 468.5h1M84 475.5h1M86 470.5h1" stroke="#000" stroke-width="1.0" stroke-opacity="1" fill="none"/>
<rect x="99.4" y="460.4" width="20.7" height="8.6" fill="#fff"/>
<rect x="56.1" y="384.8" width="123.9" height="96.19999999999999" fill="none" stroke="#141414" stroke-width="1"/>
<line x1="121.2" y1="384.8" x2="121.2" y2="481.0" stroke="#2a2a2a" stroke-width="0.9"/>
<line x1="56.1" y1="457.8" x2="180" y2="457.8" stroke="#2a2a2a" stroke-width="0.9"/>
<line x1="52.9" y1="384.8" x2="56.1" y2="384.8" stroke="#141414" stroke-width="1"/>
<line x1="56.1" y1="481.0" x2="56.1" y2="484.4" stroke="#141414" stroke-width="1"/>
<line x1="52.9" y1="408.85" x2="56.1" y2="408.85" stroke="#141414" stroke-width="1"/>
<line x1="87.075" y1="481.0" x2="87.075" y2="484.4" stroke="#141414" stroke-width="1"/>
<line x1="52.9" y1="432.9" x2="56.1" y2="432.9" stroke="#141414" stroke-width="1"/>
<line x1="118.05000000000001" y1="481.0" x2="118.05000000000001" y2="484.4" stroke="#141414" stroke-width="1"/>
<line x1="52.9" y1="456.95" x2="56.1" y2="456.95" stroke="#141414" stroke-width="1"/>
<line x1="149.025" y1="481.0" x2="149.025" y2="484.4" stroke="#141414" stroke-width="1"/>
<line x1="52.9" y1="481.0" x2="56.1" y2="481.0" stroke="#141414" stroke-width="1"/>
<line x1="180.0" y1="481.0" x2="180.0" y2="484.4" stroke="#141414" stroke-width="1"/>
<text x="119.1" y="395.5" font-family='"Liberation Sans", sans-serif' font-size="10" text-anchor="end" fill="#141414" stroke="#141414" stroke-width="0.22">0.7</text>
<text x="177.6" y="395.5" font-family='"Liberation Sans", sans-serif' font-size="10" text-anchor="end" fill="#141414" stroke="#141414" stroke-width="0.22">6.4</text>
<text x="120.1" y="468" font-family='"Liberation Sans", sans-serif' font-size="10" text-anchor="end" fill="#141414" stroke="#141414" stroke-width="0.22">84.5</text>
<text x="177.79999999999998" y="468" font-family='"Liberation Sans", sans-serif' font-size="10" text-anchor="end" fill="#141414" stroke="#141414" stroke-width="0.22">8.4</text>
<path d="M278 416.5h1M279 418.5h1M279 423.5h1M280 408.5h1M280 409.5h1M280 418.5h1M281 419.5h1M281 421.5h1M281 423.5h1M282 427.5h1M284 412.5h1M284 430.5h1M285 406.5h1M285 407.5h1M285 415.5h1M285 416.5h1M285 423.5h1M285 432.5h1M286 404.5h1M286 418.5h1M286 421.5h1M287 424.5h1M288 415.5h1M289 405.5h1M289 436.5h1M290 405.5h1M290 424.5h1M290 436.5h1M290 438.5h1M291 414.5h1M291 416.5h1M291 419.5h1M293 403.5h1M293 413.5h1M294 423.5h1" stroke="#cacaca" stroke-width="1.0" stroke-opacity="1" fill="none"/>
<path d="M271 463.5h1M272 471.5h1M275 462.5h1M275 467.5h1M276 468.5h1M276 475.5h1M277 465.5h1M277 469.5h1M278 466.5h1M278 467.5h1M279 467.5h1M279 468.5h1M279 470.5h1M280 459.5h1M280 462.5h1M280 465.5h1M280 467.5h1M280 468.5h1M280 469.5h1M280 473.5h1M281 464.5h1M281 465.5h1M281 466.5h1M281 467.5h1M281 468.5h1M281 469.5h1M281 471.5h1M282 466.5h1M282 468.5h1M282 469.5h1M282 471.5h1M283 464.5h1M283 468.5h1M283 470.5h1M283 472.5h1M283 476.5h1M284 463.5h1M284 465.5h1M284 466.5h1M284 467.5h1M284 468.5h1M284 469.5h1M284 470.5h1M284 473.5h1M285 466.5h1M285 467.5h1M285 468.5h1M285 469.5h1M285 470.5h1M285 471.5h1M285 472.5h1M285 473.5h1M286 464.5h1M286 466.5h1M286 467.5h1M286 468.5h1M286 470.5h1M287 463.5h1M287 465.5h1M287 466.5h1M287 469.5h1M287 471.5h1M288 460.5h1M288 466.5h1M288 467.5h1M288 468.5h1M288 472.5h1M289 465.5h1M289 467.5h1M289 468.5h1M289 469.5h1M289 472.5h1M290 463.5h1M290 466.5h1M290 467.5h1M290 468.5h1M290 469.5h1M290 471.5h1M290 473.5h1M291 466.5h1M291 468.5h1M291 471.5h1M291 472.5h1M291 474.5h1M292 469.5h1M292 470.5h1M292 473.5h1M293 464.5h1M293 465.5h1M293 469.5h1M294 464.5h1M295 467.5h1M295 469.5h1M296 462.5h1M297 465.5h1M299 464.5h1M300 470.5h1M300 471.5h1M302 470.5h1M305 467.5h1" stroke="#a8a8a8" stroke-width="1.0" stroke-opacity="1" fill="none"/>
<path d="M269 404.5h1M272 405.5h1M274 402.5h1M275 403.5h1M276 401.5h1M276 404.5h1M277 404.5h1M278 403.5h1M280 405.5h1M280 406.5h1M281 405.5h1M281 406.5h1M282 402.5h1M282 403.5h1M282 405.5h1M283 407.5h1M284 402.5h1M284 405.5h1M285 401.5h1M285 405.5h1M285 407.5h1M286 403.5h1M286 407.5h1M287 403.5h1M287 405.5h1M288 403.5h1M288 405.5h1M288 407.5h1M289 402.5h1M289 404.5h1M290 403.5h1M290 405.5h1M290 408.5h1M292 408.5h1M293 402.5h1M294 403.5h1M297 404.5h1M298 403.5h1M299 404.5h1M304 407.5h1" stroke="#a8a8a8" stroke-width="1.0" stroke-opacity="1" fill="none"/>
<path d="M206 475.5h1M209 461.5h1M210 469.5h1M212 471.5h1M215 472.5h1M215 477.5h1M216 475.5h1M217 465.5h1M217 467.5h1M218 463.5h1M218 465.5h1M218 466.5h1M219 470.5h1M220 470.5h1M220 474.5h1M220 475.5h1M221 467.5h1M221 472.5h1M222 462.5h1M222 465.5h1M222 467.5h1M222 468.5h1M223 467.5h1M223 469.5h1M224 469.5h1M225 463.5h1M225 467.5h1M225 469.5h1M225 471.5h1M225 473.5h1M225 474.5h1M226 461.5h1M227 461.5h1M227 463.5h1M227 469.5h1M228 463.5h1M228 468.5h1M228 471.5h1M228 473.5h1M228 477.5h1M229 461.5h1M229 467.5h1M229 468.5h1M229 471.5h1M229 476.5h1M229 477.5h1M230 463.5h1M230 467.5h1M230 472.5h1M230 474.5h1M231 461.5h1M231 466.5h1M231 468.5h1M231 470.5h1M232 462.5h1M232 463.5h1M232 471.5h1M233 462.5h1M233 467.5h1M233 471.5h1M233 478.5h1M234 464.5h1M234 466.5h1M234 467.5h1M234 468.5h1M234 470.5h1M234 472.5h1M234 475.5h1M235 464.5h1M235 465.5h1M235 470.5h1M235 471.5h1M235 474.5h1M235 477.5h1M236 461.5h1M236 462.5h1M236 463.5h1M236 465.5h1M236 466.5h1M236 467.5h1M236 471.5h1M236 472.5h1M236 473.5h1M236 475.5h1M236 479.5h1M237 466.5h1M237 467.5h1M237 469.5h1M238 466.5h1M238 470.5h1M238 471.5h1M239 464.5h1M239 468.5h1M239 469.5h1M239 472.5h1M239 473.5h1M239 475.5h1M239 477.5h1M240 464.5h1M240 465.5h1M240 467.5h1M240 469.5h1M240 476.5h1M241 463.5h1M241 466.5h1M241 468.5h1M242 465.5h1M242 468.5h1M242 470.5h1M242 473.5h1M243 464.5h1M243 465.5h1M243 466.5h1M243 467.5h1M243 468.5h1M243 471.5h1M243 473.5h1M244 465.5h1M245 464.5h1M245 465.5h1M245 467.5h1M245 471.5h1M246 467.5h1M246 468.5h1M246 475.5h1M247 467.5h1M247 472.5h1M247 475.5h1M248 474.5h1M249 465.5h1M249 466.5h1M249 469.5h1M250 463.5h1M250 467.5h1M251 466.5h1M251 469.5h1M251 471.5h1M251 473.5h1M252 463.5h1M252 470.5h1M253 462.5h1M253 473.5h1M254 467.5h1M254 468.5h1M254 471.5h1M255 463.5h1M255 467.5h1M255 469.5h1M255 476.5h1M256 463.5h1M256 466.5h1M256 467.5h1M256 472.5h1M256 474.5h1M257 469.5h1" stroke="#707070" stroke-width="1.0" stroke-opacity="1" fill="none"/>
<path d="M280 466.5h1M280 468.5h1M280 470.5h1M281 468.5h1M282 467.5h1M282 468.5h1M282 469.5h1M282 470.5h1M283 465.5h1M283 466.5h1M283 467.5h1M283 468.5h1M283 470.5h1M283 471.5h1M284 463.5h1M284 468.5h1M284 469.5h1M284 470.5h1M284 472.5h1M284 474.5h1M285 464.5h1M285 466.5h1M285 468.5h1M285 472.5h1M286 465.5h1M286 466.5h1M286 467.5h1M286 468.5h1M286 470.5h1M286 473.5h1M286 474.5h1M287 467.5h1M287 470.5h1M287 471.5h1M288 467.5h1M288 471.5h1M288 472.5h1M289 466.5h1M289 467.5h1M289 470.5h1M289 471.5h1M290 468.5h1M290 469.5h1M290 471.5h1M290 472.5h1M291 470.5h1M294 468.5h1" stroke="#707070" stroke-width="1.0" stroke-opacity="1" fill="none"/>
<path d="M284 404.5h1M285 405.5h1M287 404.5h1M288 402.5h1M288 403.5h1M289 404.5h1M289 406.5h1M290 403.5h1M290 404.5h1M292 403.5h1M292 405.5h1M292 406.5h1M292 407.5h1M293 406.5h1M294 406.5h1" stroke="#707070" stroke-width="1.0" stroke-opacity="1" fill="none"/>
<path d="M195 464.5h1M195 465.5h1M195 468.5h1M195 478.5h1M196 467.5h1M196 469.5h1M196 473.5h1M197 462.5h1M197 464.5h1M197 469.5h1M197 470.5h1M197 471.5h1M197 472.5h1M197 475.5h1M198 467.5h1M198 473.5h1M199 461.5h1M199 464.5h1M199 467.5h1M199 470.5h1M199 472.5h1M199 476.5h1M199 477.5h1M200 462.5h1M200 463.5h1M200 464.5h1M200 468.5h1M200 470.5h1M200 471.5h1M200 472.5h1M200 473.5h1M200 476.5h1M200 477.5h1M201 465.5h1M201 466.5h1M201 468.5h1M201 471.5h1M201 472.5h1M201 475.5h1M201 478.5h1M202 463.5h1M202 467.5h1M202 468.5h1M202 469.5h1M202 470.5h1M202 471.5h1M202 472.5h1M202 475.5h1M202 476.5h1M203 459.5h1M203 465.5h1M203 466.5h1M203 467.5h1M203 468.5h1M203 469.5h1M203 470.5h1M203 471.5h1M203 474.5h1M203 475.5h1M203 477.5h1M204 463.5h1M204 465.5h1M204 468.5h1M204 469.5h1M204 470.5h1M204 471.5h1M204 472.5h1M204 473.5h1M204 474.5h1M204 475.5h1M204 477.5h1M204 478.5h1M205 460.5h1M205 462.5h1M205 463.5h1M205 465.5h1M205 466.5h1M205 467.5h1M205 468.5h1M205 469.5h1M205 470.5h1M205 471.5h1M205 472.5h1M205 473.5h1M205 474.5h1M205 475.5h1M205 476.5h1M205 478.5h1M206 461.5h1M206 462.5h1M206 463.5h1M206 464.5h1M206 466.5h1M206 467.5h1M206 468.5h1M206 469.5h1M206 470.5h1M206 471.5h1M206 472.5h1M206 473.5h1M206 474.5h1M206 475.5h1M206 476.5h1M206 479.5h1M207 463.5h1M207 464.5h1M207 465.5h1M207 466.5h1M207 467.5h1M207 468.5h1M207 469.5h1M207 470.5h1M207 471.5h1M207 472.5h1M207 474.5h1M207 475.5h1M207 477.5h1M208 461.5h1M208 462.5h1M208 463.5h1M208 465.5h1M208 466.5h1M208 467.5h1M208 468.5h1M208 469.5h1M208 470.5h1M208 471.5h1M208 472.5h1M208 474.5h1M208 478.5h1M209 461.5h1M209 462.5h1M209 465.5h1M209 466.5h1M209 467.5h1M209 468.5h1M209 469.5h1M209 471.5h1M209 472.5h1M209 473.5h1M209 474.5h1M209 475.5h1M209 476.5h1M209 477.5h1M209 478.5h1M209 479.5h1M210 460.5h1M210 461.5h1M210 462.5h1M210 463.5h1M210 464.5h1M210 465.5h1M210 466.5h1M210 467.5h1M210 468.5h1M210 469.5h1M210 470.5h1M210 471.5h1M210 472.5h1M210 473.5h1M210 474.5h1M210 475.5h1M210 476.5h1M211 459.5h1M211 460.5h1M211 461.5h1M211 462.5h1M211 465.5h1M211 467.5h1M211 468.5h1M211 469.5h1M211 470.5h1M211 471.5h1M211 472.5h1M211 473.5h1M211 474.5h1M211 475.5h1M211 476.5h1M211 477.5h1M211 478.5h1M212 460.5h1M212 464.5h1M212 465.5h1M212 466.5h1M212 467.5h1M212 468.5h1M212 469.5h1M212 470.5h1M212 471.5h1M212 472.5h1M212 473.5h1M212 474.5h1M212 475.5h1M213 461.5h1M213 462.5h1M213 464.5h1M213 465.5h1M213 466.5h1M213 467.5h1M213 468.5h1M213 469.5h1M213 470.5h1M213 471.5h1M213 472.5h1M213 473.5h1M213 474.5h1M213 476.5h1M213 477.5h1M213 479.5h1M214 458.5h1M214 461.5h1M214 464.5h1M214 465.5h1M214 466.5h1M214 467.5h1M214 468.5h1M214 469.5h1M214 470.5h1M214 471.5h1M214 472.5h1M214 473.5h1M214 474.5h1M214 477.5h1M214 478.5h1M215 460.5h1M215 462.5h1M215 464.5h1M215 465.5h1M215 467.5h1M215 468.5h1M215 469.5h1M215 470.5h1M215 471.5h1M215 472.5h1M215 473.5h1M215 475.5h1M215 476.5h1M215 477.5h1M216 461.5h1M216 462.5h1M216 463.5h1M216 464.5h1M216 465.5h1M216 466.5h1M216 467.5h1M216 468.5h1M216 469.5h1M216 470.5h1M216 471.5h1M216 472.5h1M216 473.5h1M216 474.5h1M216 475.5h1M216 476.5h1M216 478.5h1M216 479.5h1M217 459.5h1M217 461.5h1M217 464.5h1M217 465.5h1M217 466.5h1M217 467.5h1M217 468.5h1M217 469.5h1M217 470.5h1M217 471.5h1M217 472.5h1M217 473.5h1M217 477.5h1M217 478.5h1M218 460.5h1M218 461.5h1M218 462.5h1M218 464.5h1M218 465.5h1M218 466.5h1M218 467.5h1M218 468.5h1M218 469.5h1M218 470.5h1M218 471.5h1M218 472.5h1M218 473.5h1M218 474.5h1M218 476.5h1M218 477.5h1M218 478.5h1M219 459.5h1M219 461.5h1M219 463.5h1M219 464.5h1M219 465.5h1M219 466.5h1M219 467.5h1M219 469.5h1M219 470.5h1M219 472.5h1M219 474.5h1M219 475.5h1M219 478.5h1M219 479.5h1M220 461.5h1M220 464.5h1M220 466.5h1M220 467.5h1M220 468.5h1M220 469.5h1M220 470.5h1M220 471.5h1M220 472.5h1M220 473.5h1M220 474.5h1M220 475.5h1M220 476.5h1M220 477.5h1M220 478.5h1M221 462.5h1M221 463.5h1M221 465.5h1M221 466.5h1M221 467.5h1M221 468.5h1M221 469.5h1M221 470.5h1M221 471.5h1M221 472.5h1M221 474.5h1M221 475.5h1M221 477.5h1M222 459.5h1M222 460.5h1M222 462.5h1M222 463.5h1M222 466.5h1M222 468.5h1M222 469.5h1M222 470.5h1M222 471.5h1M222 472.5h1M222 473.5h1M222 474.5h1M222 475.5h1M222 476.5h1M222 478.5h1M223 460.5h1M223 462.5h1M223 463.5h1M223 465.5h1M223 466.5h1M223 467.5h1M223 469.5h1M223 470.5h1M223 471.5h1M223 473.5h1M223 474.5h1M223 476.5h1M224 464.5h1M224 466.5h1M224 470.5h1M224 471.5h1M224 472.5h1M224 474.5h1M224 477.5h1M225 461.5h1M225 463.5h1M225 464.5h1M225 465.5h1M225 467.5h1M225 468.5h1M225 469.5h1M225 470.5h1M225 471.5h1M225 472.5h1M225 473.5h1M225 474.5h1M225 475.5h1M225 476.5h1M225 477.5h1M226 458.5h1M226 464.5h1M226 465.5h1M226 466.5h1M226 467.5h1M226 470.5h1M226 471.5h1M226 472.5h1M226 473.5h1M226 474.5h1M226 478.5h1M227 459.5h1M227 461.5h1M227 462.5h1M227 466.5h1M227 468.5h1M227 470.5h1M227 471.5h1M227 472.5h1M227 473.5h1M227 474.5h1M227 477.5h1M228 469.5h1M228 470.5h1M228 471.5h1M228 472.5h1M228 473.5h1M228 474.5h1M228 477.5h1M229 462.5h1M229 466.5h1M229 467.5h1M229 468.5h1M229 470.5h1M229 471.5h1M229 474.5h1M229 476.5h1M230 466.5h1M230 467.5h1M230 470.5h1M230 472.5h1M230 473.5h1M230 476.5h1M231 462.5h1M231 469.5h1M231 471.5h1M231 474.5h1M231 477.5h1M232 461.5h1M232 468.5h1M232 471.5h1M232 474.5h1M233 463.5h1M233 469.5h1M233 470.5h1M233 472.5h1M233 473.5h1M233 474.5h1M234 463.5h1M234 468.5h1M234 473.5h1M235 473.5h1M235 474.5h1M235 477.5h1M236 464.5h1M236 474.5h1M236 478.5h1M237 466.5h1M237 472.5h1M237 475.5h1M238 470.5h1M238 472.5h1M238 477.5h1M239 468.5h1M241 476.5h1M242 470.5h1" stroke="#262626" stroke-width="1.0" stroke-opacity="1" fill="none"/>
<path d="M282 468.5h1M283 467.5h1M283 469.5h1M284 467.5h1M285 468.5h1M285 469.5h1M285 470.5h1M286 467.5h1M286 468.5h1M286 469.5h1M287 466.5h1M287 468.5h1M287 469.5h1M287 470.5h1M288 468.5h1M288 470.5h1" stroke="#262626" stroke-width="1.0" stroke-opacity="1" fill="none"/>
<path d="M195 474.5h1M196 472.5h1M196 473.5h1M196 474.5h1M197 458.5h1M197 467.5h1M197 468.5h1M197 474.5h1M198 465.5h1M198 466.5h1M198 467.5h1M198 469.5h1M198 470.5h1M198 472.5h1M198 474.5h1M199 464.5h1M199 466.5h1M199 467.5h1M199 468.5h1M199 469.5h1M199 470.5h1M199 473.5h1M199 474.5h1M199 477.5h1M200 464.5h1M200 465.5h1M200 466.5h1M200 467.5h1M200 468.5h1M200 469.5h1M200 470.5h1M200 471.5h1M200 472.5h1M200 473.5h1M200 474.5h1M200 478.5h1M201 461.5h1M201 463.5h1M201 464.5h1M201 465.5h1M201 466.5h1M201 468.5h1M201 469.5h1M201 470.5h1M201 471.5h1M201 472.5h1M201 473.5h1M201 474.5h1M201 477.5h1M201 478.5h1M202 463.5h1M202 464.5h1M202 465.5h1M202 466.5h1M202 467.5h1M202 468.5h1M202 469.5h1M202 470.5h1M202 471.5h1M202 472.5h1M202 473.5h1M202 474.5h1M202 475.5h1M202 476.5h1M202 477.5h1M202 478.5h1M203 459.5h1M203 461.5h1M203 463.5h1M203 464.5h1M203 465.5h1M203 466.5h1M203 467.5h1M203 468.5h1M203 469.5h1M203 470.5h1M203 471.5h1M203 472.5h1M203 473.5h1M203 474.5h1M203 475.5h1M203 476.5h1M203 477.5h1M204 460.5h1M204 462.5h1M204 463.5h1M204 464.5h1M204 465.5h1M204 466.5h1M204 467.5h1M204 468.5h1M204 469.5h1M204 470.5h1M204 471.5h1M204 472.5h1M204 473.5h1M204 475.5h1M204 476.5h1M204 477.5h1M204 478.5h1M205 459.5h1M205 464.5h1M205 465.5h1M205 466.5h1M205 467.5h1M205 468.5h1M205 469.5h1M205 470.5h1M205 471.5h1M205 472.5h1M205 473.5h1M205 474.5h1M205 475.5h1M205 476.5h1M205 477.5h1M205 478.5h1M206 462.5h1M206 464.5h1M206 465.5h1M206 466.5h1M206 467.5h1M206 468.5h1M206 469.5h1M206 470.5h1M206 471.5h1M206 472.5h1M206 473.5h1M206 474.5h1M206 475.5h1M206 476.5h1M206 477.5h1M207 461.5h1M207 463.5h1M207 464.5h1M207 465.5h1M207 466.5h1M207 467.5h1M207 468.5h1M207 469.5h1M207 470.5h1M207 471.5h1M207 472.5h1M207 473.5h1M207 474.5h1M207 475.5h1M207 477.5h1M207 478.5h1M208 461.5h1M208 462.5h1M208 463.5h1M208 464.5h1M208 465.5h1M208 466.5h1M208 467.5h1M208 468.5h1M208 469.5h1M208 470.5h1M208 471.5h1M208 472.5h1M208 473.5h1M208 474.5h1M208 475.5h1M208 476.5h1M208 477.5h1M208 478.5h1M208 479.5h1M209 459.5h1M209 460.5h1M209 462.5h1M209 463.5h1M209 464.5h1M209 465.5h1M209 466.5h1M209 467.5h1M209 468.5h1M209 469.5h1M209 470.5h1M209 471.5h1M209 472.5h1M209 473.5h1M209 474.5h1M209 475.5h1M209 476.5h1M209 477.5h1M209 478.5h1M210 459.5h1M210 460.5h1M210 462.5h1M210 463.5h1M210 464.5h1M210 465.5h1M210 466.5h1M210 467.5h1M210 468.5h1M210 469.5h1M210 470.5h1M210 471.5h1M210 472.5h1M210 473.5h1M210 474.5h1M210 475.5h1M210 476.5h1M210 477.5h1M210 479.5h1M211 459.5h1M211 462.5h1M211 464.5h1M211 465.5h1M211 466.5h1M211 467.5h1M211 468.5h1M211 469.5h1M211 470.5h1M211 471.5h1M211 472.5h1M211 473.5h1M211 474.5h1M211 475.5h1M211 476.5h1M211 477.5h1M211 478.5h1M212 461.5h1M212 462.5h1M212 464.5h1M212 465.5h1M212 466.5h1M212 467.5h1M212 468.5h1M212 469.5h1M212 470.5h1M212 471.5h1M212 472.5h1M212 473.5h1M212 474.5h1M212 475.5h1M212 476.5h1M212 477.5h1M212 478.5h1M213 462.5h1M213 463.5h1M213 464.5h1M213 465.5h1M213 466.5h1M213 467.5h1M213 468.5h1M213 469.5h1M213 470.5h1M213 471.5h1M213 472.5h1M213 473.5h1M213 474.5h1M213 475.5h1M213 476.5h1M213 477.5h1M213 478.5h1M213 479.5h1M214 462.5h1M214 463.5h1M214 464.5h1M214 465.5h1M214 466.5h1M214 467.5h1M214 468.5h1M214 469.5h1M214 470.5h1M214 471.5h1M214 472.5h1M214 473.5h1M214 474.5h1M214 475.5h1M214 476.5h1M214 477.5h1M214 478.5h1M215 460.5h1M215 461.5h1M215 463.5h1M215 464.5h1M215 465.5h1M215 466.5h1M215 467.5h1M215 468.5h1M215 469.5h1M215 470.5h1M215 471.5h1M215 472.5h1M215 473.5h1M215 474.5h1M215 475.5h1M215 476.5h1M215 477.5h1M215 478.5h1M215 479.5h1M216 461.5h1M216 462.5h1M216 463.5h1M216 464.5h1M216 465.5h1M216 466.5h1M216 467.5h1M216 468.5h1M216 469.5h1M216 470.5h1M216 471.5h1M216 472.5h1M216 473.5h1M216 474.5h1M216 475.5h1M216 476.5h1M216 477.5h1M216 478.5h1M217 464.5h1M217 465.5h1M217 466.5h1M217 467.5h1M217 468.5h1M217 469.5h1M217 470.5h1M217 471.5h1M217 472.5h1M217 473.5h1M217 474.5h1M217 475.5h1M217 476.5h1M217 478.5h1M218 461.5h1M218 464.5h1M218 467.5h1M218 468.5h1M218 469.5h1M218 470.5h1M218 471.5h1M218 472.5h1M218 473.5h1M218 474.5h1M218 475.5h1M218 476.5h1M218 477.5h1M219 461.5h1M219 462.5h1M219 463.5h1M219 465.5h1M219 466.5h1M219 467.5h1M219 468.5h1M219 469.5h1M219 470.5h1M219 471.5h1M219 473.5h1M219 474.5h1M219 475.5h1M219 476.5h1M220 460.5h1M220 464.5h1M220 466.5h1M220 467.5h1M220 468.5h1M220 470.5h1M220 471.5h1M220 472.5h1M220 473.5h1M220 474.5h1M220 475.5h1M220 476.5h1M220 478.5h1M221 461.5h1M221 465.5h1M221 470.5h1M221 472.5h1M222 464.5h1M222 465.5h1M222 471.5h1M222 473.5h1M223 461.5h1M223 469.5h1M223 471.5h1M223 473.5h1M224 468.5h1M224 476.5h1M225 469.5h1M225 471.5h1M226 472.5h1" stroke="#000" stroke-width="1.0" stroke-opacity="1" fill="none"/>
<rect x="237.4" y="460.4" width="20.7" height="8.6" fill="#fff"/>
<rect x="194.8" y="384.8" width="123.5" height="96.19999999999999" fill="none" stroke="#141414" stroke-width="1"/>
<line x1="258.8" y1="384.8" x2="258.8" y2="481.0" stroke="#2a2a2a" stroke-width="0.9"/>
<line x1="194.8" y1="457.8" x2="318.3" y2="457.8" stroke="#2a2a2a" stroke-width="0.9"/>
<line x1="191.60000000000002" y1="384.8" x2="194.8" y2="384.8" stroke="#141414" stroke-width="1"/>
<line x1="194.8" y1="481.0" x2="194.8" y2="484.4" stroke="#141414" stroke-width="1"/>
<line x1="191.60000000000002" y1="408.85" x2="194.8" y2="408.85" stroke="#141414" stroke-width="1"/>
<line x1="225.675" y1="481.0" x2="225.675" y2="484.4" stroke="#141414" stroke-width="1"/>
<line x1="191.60000000000002" y1="432.9" x2="194.8" y2="432.9" stroke="#141414" stroke-width="1"/>
<line x1="256.55" y1="481.0" x2="256.55" y2="484.4" stroke="#141414" stroke-width="1"/>
<line x1="191.60000000000002" y1="456.95" x2="194.8" y2="456.95" stroke="#141414" stroke-width="1"/>
<line x1="287.425" y1="481.0" x2="287.425" y2="484.4" stroke="#141414" stroke-width="1"/>
<line x1="191.60000000000002" y1="481.0" x2="194.8" y2="481.0" stroke="#141414" stroke-width="1"/>
<line x1="318.3" y1="481.0" x2="318.3" y2="484.4" stroke="#141414" stroke-width="1"/>
<text x="256.1" y="395" font-family='"Liberation Sans", sans-serif' font-size="10" text-anchor="end" fill="#141414" stroke="#141414" stroke-width="0.22">0.8</text>
<text x="315.6" y="395" font-family='"Liberation Sans", sans-serif' font-size="10" text-anchor="end" fill="#141414" stroke="#141414" stroke-width="0.22">6.3</text>
<text x="258.1" y="468" font-family='"Liberation Sans", sans-serif' font-size="10" text-anchor="end" fill="#141414" stroke="#141414" stroke-width="0.22">85.3</text>
<text x="315.6" y="468" font-family='"Liberation Sans", sans-serif' font-size="10" text-anchor="end" fill="#141414" stroke="#141414" stroke-width="0.22">7.5</text>
<path d="M406 402.5h1M406 406.5h1M410 406.5h1M411 409.5h1M412 403.5h1M415 399.5h1M415 403.5h1M416 401.5h1M416 405.5h1M417 403.5h1M417 406.5h1M418 405.5h1M419 402.5h1M420 403.5h1M420 407.5h1M421 401.5h1M421 403.5h1M421 405.5h1M421 407.5h1M422 401.5h1M422 402.5h1M423 405.5h1M424 403.5h1M424 404.5h1M424 407.5h1M425 401.5h1M425 403.5h1M426 403.5h1M428 409.5h1M429 405.5h1M431 401.5h1M432 405.5h1M434 401.5h1M434 404.5h1M434 405.5h1M434 407.5h1M435 405.5h1M436 401.5h1M436 403.5h1M437 403.5h1" stroke="#cacaca" stroke-width="1.0" stroke-opacity="1" fill="none"/>
<path d="M403 401.5h1M414 415.5h1M425 413.5h1M426 400.5h1M427 417.5h1M428 424.5h1M430 407.5h1M431 427.5h1M431 437.5h1M433 424.5h1M435 426.5h1M438 416.5h1" stroke="#cacaca" stroke-width="1.0" stroke-opacity="1" fill="none"/>
<path d="M403 472.5h1M408 466.5h1M409 465.5h1M411 467.5h1M412 466.5h1M415 460.5h1M415 468.5h1M415 469.5h1M415 470.5h1M415 472.5h1M416 464.5h1M416 471.5h1M417 464.5h1M418 462.5h1M418 467.5h1M418 468.5h1M418 469.5h1M418 472.5h1M419 461.5h1M419 468.5h1M419 469.5h1M420 464.5h1M420 468.5h1M420 472.5h1M421 464.5h1M421 466.5h1M421 468.5h1M421 471.5h1M421 473.5h1M422 466.5h1M422 468.5h1M422 471.5h1M422 472.5h1M423 466.5h1M423 467.5h1M423 469.5h1M423 471.5h1M423 472.5h1M424 461.5h1M424 463.5h1M424 465.5h1M424 466.5h1M424 467.5h1M424 468.5h1M424 469.5h1M424 470.5h1M425 463.5h1M425 467.5h1M425 468.5h1M425 469.5h1M425 470.5h1M425 472.5h1M426 465.5h1M426 466.5h1M426 467.5h1M426 468.5h1M426 469.5h1M426 470.5h1M426 472.5h1M426 475.5h1M427 466.5h1M427 469.5h1M427 470.5h1M427 472.5h1M428 462.5h1M428 466.5h1M428 470.5h1M428 472.5h1M429 466.5h1M429 468.5h1M430 466.5h1M430 469.5h1M430 470.5h1M430 472.5h1M431 467.5h1M431 471.5h1M432 459.5h1M432 466.5h1M432 467.5h1M433 466.5h1M433 471.5h1M433 472.5h1M436 474.5h1" stroke="#a8a8a8" stroke-width="1.0" stroke-opacity="1" fill="none"/>
<path d="M407 405.5h1M411 405.5h1M416 403.5h1M417 403.5h1M417 404.5h1M420 402.5h1M420 405.5h1M420 407.5h1M421 404.5h1M422 403.5h1M422 404.5h1M423 403.5h1M423 405.5h1M424 403.5h1M424 404.5h1M424 406.5h1M425 403.5h1M425 404.5h1M426 402.5h1M426 403.5h1M426 404.5h1M426 405.5h1M427 403.5h1M427 405.5h1M427 406.5h1M428 402.5h1M428 404.5h1M428 408.5h1M429 403.5h1M430 403.5h1M430 404.5h1M431 402.5h1M431 404.5h1M431 406.5h1M432 406.5h1M433 402.5h1M433 404.5h1M433 405.5h1M434 402.5h1M434 404.5h1M434 406.5h1M435 404.5h1M436 402.5h1M436 405.5h1M439 404.5h1M442 404.5h1" stroke="#a8a8a8" stroke-width="1.0" stroke-opacity="1" fill="none"/>
<path d="M352 469.5h1M352 473.5h1M354 458.5h1M354 472.5h1M355 467.5h1M355 470.5h1M357 467.5h1M357 468.5h1M358 462.5h1M358 471.5h1M358 476.5h1M359 461.5h1M359 464.5h1M359 466.5h1M359 467.5h1M359 471.5h1M360 464.5h1M360 473.5h1M362 468.5h1M362 470.5h1M362 472.5h1M363 467.5h1M363 468.5h1M363 471.5h1M363 473.5h1M364 465.5h1M365 465.5h1M365 467.5h1M365 479.5h1M366 464.5h1M366 465.5h1M366 467.5h1M366 473.5h1M366 475.5h1M366 478.5h1M367 459.5h1M367 467.5h1M367 475.5h1M368 463.5h1M368 467.5h1M368 471.5h1M369 465.5h1M369 467.5h1M369 468.5h1M369 474.5h1M370 459.5h1M370 463.5h1M370 464.5h1M370 470.5h1M370 471.5h1M371 462.5h1M371 469.5h1M371 471.5h1M371 473.5h1M372 465.5h1M372 469.5h1M372 470.5h1M372 475.5h1M373 463.5h1M373 468.5h1M373 472.5h1M374 464.5h1M374 468.5h1M374 471.5h1M374 472.5h1M375 466.5h1M375 469.5h1M375 470.5h1M375 474.5h1M375 479.5h1M376 460.5h1M376 471.5h1M376 474.5h1M377 462.5h1M377 464.5h1M377 465.5h1M377 467.5h1M377 470.5h1M377 474.5h1M377 475.5h1M378 461.5h1M378 467.5h1M378 468.5h1M378 471.5h1M379 462.5h1M379 467.5h1M379 468.5h1M379 471.5h1M380 463.5h1M380 464.5h1M380 466.5h1M380 471.5h1M380 474.5h1M380 475.5h1M381 465.5h1M381 466.5h1M381 469.5h1M381 471.5h1M381 472.5h1M382 463.5h1M382 466.5h1M382 468.5h1M382 470.5h1M382 472.5h1M383 465.5h1M383 466.5h1M383 468.5h1M383 475.5h1M384 466.5h1M384 469.5h1M384 474.5h1M385 465.5h1M385 467.5h1M385 469.5h1M385 472.5h1M386 463.5h1M386 464.5h1M386 465.5h1M386 467.5h1M386 474.5h1M387 464.5h1M387 468.5h1M387 469.5h1M388 463.5h1M389 461.5h1M389 464.5h1M389 465.5h1M389 466.5h1M389 467.5h1M389 468.5h1M390 467.5h1M391 468.5h1M391 470.5h1M392 462.5h1M392 465.5h1M392 468.5h1M393 466.5h1M393 478.5h1M394 464.5h1M394 468.5h1M395 460.5h1M395 472.5h1" stroke="#707070" stroke-width="1.0" stroke-opacity="1" fill="none"/>
<path d="M416 466.5h1M417 468.5h1M419 468.5h1M421 468.5h1M421 469.5h1M421 472.5h1M422 461.5h1M422 467.5h1M422 468.5h1M422 469.5h1M422 473.5h1M424 464.5h1M424 465.5h1M424 467.5h1M424 468.5h1M424 469.5h1M425 468.5h1M425 469.5h1M425 471.5h1M426 467.5h1M426 469.5h1M426 472.5h1M427 467.5h1M427 469.5h1M427 471.5h1M428 466.5h1M428 467.5h1M429 467.5h1M432 470.5h1" stroke="#707070" stroke-width="1.0" stroke-opacity="1" fill="none"/>
<path d="M421 401.5h1M422 404.5h1M423 404.5h1M424 405.5h1M425 404.5h1M426 405.5h1M427 403.5h1M427 404.5h1M427 405.5h1M428 403.5h1M428 404.5h1M428 405.5h1M429 403.5h1M429 404.5h1M429 405.5h1M429 406.5h1M430 403.5h1M431 404.5h1M432 406.5h1M433 403.5h1M433 405.5h1M434 402.5h1M438 402.5h1" stroke="#707070" stroke-width="1.0" stroke-opacity="1" fill="none"/>
<path d="M334 475.5h1M335 478.5h1M336 465.5h1M336 471.5h1M337 466.5h1M337 468.5h1M337 469.5h1M337 472.5h1M338 463.5h1M338 464.5h1M338 466.5h1M338 472.5h1M338 473.5h1M339 461.5h1M339 467.5h1M339 473.5h1M340 466.5h1M340 469.5h1M340 471.5h1M341 464.5h1M341 466.5h1M341 470.5h1M341 471.5h1M341 474.5h1M341 475.5h1M341 476.5h1M342 467.5h1M342 468.5h1M342 470.5h1M342 472.5h1M342 475.5h1M342 476.5h1M343 461.5h1M343 463.5h1M343 467.5h1M343 469.5h1M343 472.5h1M343 473.5h1M343 474.5h1M343 478.5h1M344 464.5h1M344 465.5h1M344 466.5h1M344 467.5h1M344 468.5h1M344 469.5h1M344 470.5h1M344 471.5h1M344 472.5h1M344 473.5h1M344 476.5h1M344 478.5h1M345 464.5h1M345 466.5h1M345 467.5h1M345 468.5h1M345 469.5h1M345 471.5h1M345 473.5h1M345 474.5h1M345 477.5h1M346 462.5h1M346 466.5h1M346 467.5h1M346 468.5h1M346 469.5h1M346 470.5h1M346 471.5h1M346 473.5h1M346 476.5h1M346 477.5h1M347 463.5h1M347 464.5h1M347 465.5h1M347 466.5h1M347 467.5h1M347 468.5h1M347 469.5h1M347 470.5h1M347 471.5h1M347 472.5h1M347 473.5h1M347 474.5h1M347 475.5h1M347 477.5h1M348 464.5h1M348 466.5h1M348 468.5h1M348 469.5h1M348 470.5h1M348 471.5h1M348 478.5h1M349 462.5h1M349 463.5h1M349 465.5h1M349 466.5h1M349 467.5h1M349 468.5h1M349 469.5h1M349 470.5h1M349 472.5h1M349 473.5h1M349 474.5h1M349 475.5h1M350 459.5h1M350 460.5h1M350 465.5h1M350 467.5h1M350 468.5h1M350 469.5h1M350 470.5h1M350 472.5h1M350 473.5h1M350 474.5h1M350 475.5h1M350 476.5h1M351 463.5h1M351 464.5h1M351 465.5h1M351 466.5h1M351 468.5h1M351 469.5h1M351 470.5h1M351 471.5h1M351 472.5h1M351 473.5h1M351 476.5h1M352 461.5h1M352 462.5h1M352 465.5h1M352 466.5h1M352 467.5h1M352 468.5h1M352 469.5h1M352 470.5h1M352 471.5h1M352 472.5h1M352 473.5h1M352 475.5h1M353 460.5h1M353 462.5h1M353 465.5h1M353 466.5h1M353 467.5h1M353 468.5h1M353 470.5h1M353 471.5h1M353 472.5h1M353 473.5h1M353 475.5h1M353 477.5h1M354 462.5h1M354 463.5h1M354 464.5h1M354 465.5h1M354 467.5h1M354 468.5h1M354 469.5h1M354 470.5h1M354 471.5h1M354 472.5h1M354 473.5h1M354 474.5h1M354 475.5h1M355 460.5h1M355 465.5h1M355 466.5h1M355 467.5h1M355 468.5h1M355 469.5h1M355 470.5h1M355 471.5h1M355 472.5h1M355 473.5h1M355 474.5h1M355 475.5h1M355 477.5h1M356 459.5h1M356 462.5h1M356 464.5h1M356 465.5h1M356 466.5h1M356 467.5h1M356 468.5h1M356 469.5h1M356 470.5h1M356 471.5h1M356 472.5h1M356 473.5h1M356 474.5h1M356 478.5h1M357 462.5h1M357 463.5h1M357 464.5h1M357 465.5h1M357 466.5h1M357 469.5h1M357 470.5h1M357 471.5h1M357 472.5h1M357 473.5h1M357 474.5h1M357 477.5h1M358 461.5h1M358 462.5h1M358 463.5h1M358 464.5h1M358 465.5h1M358 466.5h1M358 467.5h1M358 468.5h1M358 469.5h1M358 470.5h1M358 471.5h1M358 472.5h1M358 473.5h1M358 474.5h1M358 475.5h1M358 478.5h1M359 461.5h1M359 462.5h1M359 463.5h1M359 464.5h1M359 465.5h1M359 466.5h1M359 467.5h1M359 468.5h1M359 469.5h1M359 470.5h1M359 471.5h1M359 473.5h1M359 474.5h1M359 475.5h1M359 476.5h1M359 477.5h1M359 479.5h1M360 461.5h1M360 462.5h1M360 464.5h1M360 465.5h1M360 467.5h1M360 470.5h1M360 471.5h1M360 472.5h1M360 473.5h1M360 475.5h1M360 478.5h1M361 461.5h1M361 462.5h1M361 463.5h1M361 465.5h1M361 466.5h1M361 467.5h1M361 468.5h1M361 469.5h1M361 470.5h1M361 471.5h1M361 472.5h1M361 473.5h1M361 475.5h1M361 476.5h1M361 477.5h1M362 463.5h1M362 464.5h1M362 465.5h1M362 466.5h1M362 467.5h1M362 468.5h1M362 470.5h1M362 471.5h1M362 472.5h1M362 473.5h1M362 474.5h1M362 476.5h1M363 461.5h1M363 463.5h1M363 464.5h1M363 465.5h1M363 466.5h1M363 467.5h1M363 468.5h1M363 469.5h1M363 470.5h1M363 471.5h1M363 472.5h1M363 473.5h1M363 475.5h1M364 462.5h1M364 467.5h1M364 468.5h1M364 469.5h1M364 470.5h1M364 472.5h1M364 473.5h1M364 474.5h1M364 475.5h1M365 464.5h1M365 465.5h1M365 466.5h1M365 467.5h1M365 468.5h1M365 469.5h1M365 470.5h1M365 471.5h1M365 472.5h1M365 473.5h1M365 474.5h1M365 475.5h1M366 463.5h1M366 464.5h1M366 465.5h1M366 466.5h1M366 467.5h1M366 468.5h1M366 469.5h1M366 470.5h1M366 471.5h1M366 472.5h1M366 473.5h1M366 476.5h1M367 463.5h1M367 464.5h1M367 465.5h1M367 467.5h1M367 468.5h1M367 469.5h1M367 471.5h1M367 474.5h1M367 475.5h1M367 476.5h1M368 463.5h1M368 465.5h1M368 466.5h1M368 468.5h1M368 470.5h1M368 471.5h1M368 472.5h1M368 474.5h1M368 475.5h1M368 479.5h1M369 464.5h1M369 469.5h1M369 470.5h1M369 471.5h1M369 472.5h1M369 473.5h1M369 477.5h1M369 478.5h1M370 464.5h1M370 467.5h1M370 468.5h1M370 470.5h1M370 472.5h1M370 473.5h1M370 474.5h1M371 459.5h1M371 465.5h1M371 466.5h1M371 469.5h1M371 474.5h1M371 478.5h1M372 463.5h1M372 464.5h1M372 470.5h1M372 471.5h1M372 472.5h1M372 473.5h1M372 474.5h1M372 479.5h1M373 468.5h1M373 471.5h1M373 472.5h1M373 473.5h1M373 474.5h1M373 475.5h1M374 465.5h1M374 472.5h1M375 468.5h1M375 475.5h1M375 477.5h1M376 463.5h1M376 467.5h1M376 472.5h1M376 477.5h1M377 461.5h1M377 465.5h1M377 470.5h1M377 474.5h1M378 463.5h1M378 465.5h1M378 471.5h1M379 471.5h1M380 459.5h1M380 465.5h1M380 468.5h1M381 471.5h1M383 464.5h1M387 466.5h1M389 462.5h1" stroke="#262626" stroke-width="1.0" stroke-opacity="1" fill="none"/>
<path d="M334 465.5h1M334 466.5h1M334 468.5h1M334 469.5h1M334 475.5h1M334 477.5h1M335 462.5h1M335 466.5h1M335 467.5h1M335 469.5h1M335 470.5h1M335 471.5h1M335 472.5h1M335 473.5h1M335 474.5h1M336 463.5h1M336 464.5h1M336 467.5h1M336 468.5h1M336 469.5h1M336 470.5h1M336 472.5h1M336 473.5h1M336 474.5h1M336 475.5h1M336 476.5h1M336 477.5h1M337 463.5h1M337 464.5h1M337 465.5h1M337 466.5h1M337 468.5h1M337 469.5h1M337 470.5h1M337 471.5h1M337 472.5h1M337 473.5h1M337 474.5h1M337 475.5h1M337 476.5h1M337 478.5h1M338 462.5h1M338 464.5h1M338 465.5h1M338 467.5h1M338 468.5h1M338 469.5h1M338 470.5h1M338 472.5h1M338 473.5h1M338 474.5h1M338 475.5h1M338 476.5h1M338 478.5h1M339 461.5h1M339 462.5h1M339 463.5h1M339 464.5h1M339 465.5h1M339 466.5h1M339 467.5h1M339 468.5h1M339 469.5h1M339 470.5h1M339 471.5h1M339 472.5h1M339 473.5h1M339 474.5h1M339 475.5h1M339 476.5h1M339 477.5h1M339 478.5h1M339 479.5h1M340 458.5h1M340 461.5h1M340 462.5h1M340 463.5h1M340 464.5h1M340 465.5h1M340 466.5h1M340 467.5h1M340 468.5h1M340 469.5h1M340 470.5h1M340 471.5h1M340 472.5h1M340 473.5h1M340 474.5h1M340 475.5h1M340 476.5h1M340 477.5h1M340 478.5h1M341 459.5h1M341 463.5h1M341 464.5h1M341 465.5h1M341 466.5h1M341 467.5h1M341 468.5h1M341 469.5h1M341 470.5h1M341 471.5h1M341 472.5h1M341 473.5h1M341 474.5h1M341 475.5h1M341 476.5h1M341 477.5h1M341 478.5h1M342 460.5h1M342 462.5h1M342 463.5h1M342 464.5h1M342 465.5h1M342 466.5h1M342 467.5h1M342 468.5h1M342 469.5h1M342 470.5h1M342 471.5h1M342 472.5h1M342 473.5h1M342 474.5h1M342 475.5h1M342 476.5h1M342 478.5h1M342 479.5h1M343 458.5h1M343 459.5h1M343 460.5h1M343 462.5h1M343 463.5h1M343 464.5h1M343 465.5h1M343 466.5h1M343 467.5h1M343 468.5h1M343 469.5h1M343 470.5h1M343 471.5h1M343 472.5h1M343 473.5h1M343 474.5h1M343 475.5h1M343 476.5h1M343 477.5h1M343 478.5h1M344 460.5h1M344 462.5h1M344 463.5h1M344 464.5h1M344 465.5h1M344 466.5h1M344 467.5h1M344 468.5h1M344 469.5h1M344 470.5h1M344 471.5h1M344 472.5h1M344 473.5h1M344 474.5h1M344 475.5h1M344 476.5h1M344 477.5h1M344 478.5h1M345 460.5h1M345 461.5h1M345 462.5h1M345 463.5h1M345 464.5h1M345 465.5h1M345 466.5h1M345 467.5h1M345 468.5h1M345 469.5h1M345 470.5h1M345 471.5h1M345 472.5h1M345 473.5h1M345 474.5h1M345 475.5h1M345 476.5h1M345 477.5h1M345 478.5h1M345 479.5h1M346 458.5h1M346 460.5h1M346 461.5h1M346 462.5h1M346 463.5h1M346 464.5h1M346 465.5h1M346 466.5h1M346 467.5h1M346 468.5h1M346 469.5h1M346 470.5h1M346 471.5h1M346 472.5h1M346 473.5h1M346 474.5h1M346 475.5h1M346 476.5h1M346 477.5h1M346 478.5h1M347 461.5h1M347 462.5h1M347 463.5h1M347 464.5h1M347 465.5h1M347 466.5h1M347 467.5h1M347 468.5h1M347 469.5h1M347 470.5h1M347 471.5h1M347 472.5h1M347 473.5h1M347 474.5h1M347 475.5h1M347 476.5h1M347 477.5h1M347 478.5h1M347 479.5h1M348 460.5h1M348 461.5h1M348 462.5h1M348 463.5h1M348 464.5h1M348 465.5h1M348 466.5h1M348 467.5h1M348 468.5h1M348 469.5h1M348 470.5h1M348 471.5h1M348 472.5h1M348 473.5h1M348 474.5h1M348 475.5h1M348 476.5h1M348 478.5h1M349 459.5h1M349 460.5h1M349 461.5h1M349 462.5h1M349 463.5h1M349 464.5h1M349 465.5h1M349 466.5h1M349 467.5h1M349 468.5h1M349 469.5h1M349 470.5h1M349 471.5h1M349 472.5h1M349 473.5h1M349 474.5h1M349 475.5h1M349 476.5h1M349 477.5h1M350 459.5h1M350 461.5h1M350 462.5h1M350 463.5h1M350 464.5h1M350 465.5h1M350 466.5h1M350 467.5h1M350 468.5h1M350 469.5h1M350 470.5h1M350 471.5h1M350 472.5h1M350 473.5h1M350 474.5h1M350 475.5h1M350 476.5h1M350 477.5h1M350 478.5h1M351 461.5h1M351 462.5h1M351 463.5h1M351 464.5h1M351 465.5h1M351 466.5h1M351 467.5h1M351 468.5h1M351 469.5h1M351 470.5h1M351 471.5h1M351 472.5h1M351 473.5h1M351 474.5h1M351 475.5h1M351 476.5h1M351 477.5h1M351 478.5h1M352 460.5h1M352 463.5h1M352 464.5h1M352 465.5h1M352 466.5h1M352 467.5h1M352 468.5h1M352 469.5h1M352 470.5h1M352 471.5h1M352 472.5h1M352 473.5h1M352 474.5h1M352 475.5h1M352 476.5h1M352 477.5h1M352 478.5h1M352 479.5h1M353 460.5h1M353 461.5h1M353 462.5h1M353 464.5h1M353 465.5h1M353 466.5h1M353 467.5h1M353 468.5h1M353 469.5h1M353 470.5h1M353 471.5h1M353 472.5h1M353 473.5h1M353 474.5h1M353 475.5h1M353 476.5h1M353 479.5h1M354 461.5h1M354 463.5h1M354 464.5h1M354 465.5h1M354 466.5h1M354 467.5h1M354 468.5h1M354 469.5h1M354 470.5h1M354 471.5h1M354 472.5h1M354 473.5h1M354 474.5h1M354 475.5h1M354 476.5h1M354 477.5h1M354 478.5h1M354 479.5h1M355 459.5h1M355 460.5h1M355 462.5h1M355 463.5h1M355 464.5h1M355 465.5h1M355 466.5h1M355 467.5h1M355 468.5h1M355 469.5h1M355 470.5h1M355 471.5h1M355 472.5h1M355 473.5h1M355 474.5h1M355 475.5h1M355 476.5h1M355 477.5h1M355 478.5h1M356 461.5h1M356 462.5h1M356 463.5h1M356 464.5h1M356 465.5h1M356 466.5h1M356 467.5h1M356 468.5h1M356 469.5h1M356 470.5h1M356 471.5h1M356 472.5h1M356 473.5h1M356 474.5h1M356 475.5h1M356 476.5h1M356 477.5h1M357 461.5h1M357 462.5h1M357 463.5h1M357 464.5h1M357 465.5h1M357 466.5h1M357 467.5h1M357 468.5h1M357 469.5h1M357 470.5h1M357 471.5h1M357 472.5h1M357 473.5h1M357 474.5h1M357 475.5h1M357 476.5h1M357 477.5h1M357 478.5h1M357 479.5h1M358 462.5h1M358 464.5h1M358 465.5h1M358 466.5h1M358 467.5h1M358 468.5h1M358 469.5h1M358 470.5h1M358 471.5h1M358 472.5h1M358 473.5h1M358 474.5h1M358 475.5h1M358 476.5h1M358 477.5h1M358 478.5h1M358 479.5h1M359 461.5h1M359 462.5h1M359 463.5h1M359 464.5h1M359 465.5h1M359 466.5h1M359 467.5h1M359 468.5h1M359 469.5h1M359 470.5h1M359 471.5h1M359 472.5h1M359 473.5h1M359 475.5h1M359 476.5h1M360 464.5h1M360 465.5h1M360 466.5h1M360 467.5h1M360 468.5h1M360 469.5h1M360 470.5h1M360 471.5h1M360 472.5h1M360 473.5h1M360 474.5h1M360 475.5h1M360 477.5h1M361 462.5h1M361 463.5h1M361 464.5h1M361 465.5h1M361 466.5h1M361 468.5h1M361 469.5h1M361 470.5h1M361 471.5h1M361 472.5h1M361 473.5h1M361 474.5h1M361 475.5h1M362 460.5h1M362 464.5h1M362 465.5h1M362 466.5h1M362 467.5h1M362 469.5h1M362 470.5h1M362 471.5h1M362 472.5h1M362 473.5h1M362 474.5h1M363 465.5h1M363 468.5h1M363 469.5h1M363 470.5h1M363 471.5h1M363 472.5h1M363 473.5h1M363 474.5h1M363 475.5h1M364 464.5h1M364 467.5h1M364 470.5h1M364 471.5h1M364 472.5h1M364 476.5h1M365 467.5h1M365 470.5h1M366 465.5h1M366 469.5h1M366 474.5h1M368 468.5h1M368 470.5h1M368 472.5h1M371 471.5h1" stroke="#000" stroke-width="1.0" stroke-opacity="1" fill="none"/>
<rect x="375.4" y="460.4" width="20.7" height="8.6" fill="#fff"/>
<rect x="333.2" y="384.8" width="124.10000000000002" height="96.19999999999999" fill="none" stroke="#141414" stroke-width="1"/>
<line x1="398.5" y1="384.8" x2="398.5" y2="481.0" stroke="#2a2a2a" stroke-width="0.9"/>
<line x1="333.2" y1="457.8" x2="457.3" y2="457.8" stroke="#2a2a2a" stroke-width="0.9"/>
<line x1="330.0" y1="384.8" x2="333.2" y2="384.8" stroke="#141414" stroke-width="1"/>
<line x1="333.2" y1="481.0" x2="333.2" y2="484.4" stroke="#141414" stroke-width="1"/>
<line x1="330.0" y1="408.85" x2="333.2" y2="408.85" stroke="#141414" stroke-width="1"/>
<line x1="364.225" y1="481.0" x2="364.225" y2="484.4" stroke="#141414" stroke-width="1"/>
<line x1="330.0" y1="432.9" x2="333.2" y2="432.9" stroke="#141414" stroke-width="1"/>
<line x1="395.25" y1="481.0" x2="395.25" y2="484.4" stroke="#141414" stroke-width="1"/>
<line x1="330.0" y1="456.95" x2="333.2" y2="456.95" stroke="#141414" stroke-width="1"/>
<line x1="426.275" y1="481.0" x2="426.275" y2="484.4" stroke="#141414" stroke-width="1"/>
<line x1="330.0" y1="481.0" x2="333.2" y2="481.0" stroke="#141414" stroke-width="1"/>
<line x1="457.3" y1="481.0" x2="457.3" y2="484.4" stroke="#141414" stroke-width="1"/>
<text x="394.1" y="395" font-family='"Liberation Sans", sans-serif' font-size="10" text-anchor="end" fill="#141414" stroke="#141414" stroke-width="0.22">1.2</text>
<text x="453.1" y="395" font-family='"Liberation Sans", sans-serif' font-size="10" text-anchor="end" fill="#141414" stroke="#141414" stroke-width="0.22">7.2</text>
<text x="396.1" y="468" font-family='"Liberation Sans", sans-serif' font-size="10" text-anchor="end" fill="#141414" stroke="#141414" stroke-width="0.22">86.6</text>
<text x="452.90000000000003" y="468" font-family='"Liberation Sans", sans-serif' font-size="10" text-anchor="end" fill="#141414" stroke="#141414" stroke-width="0.22">5.0</text>
<text x="45.9" y="275.0" font-family='"Liberation Sans", sans-serif' font-size="11.2" text-anchor="middle" fill="#141414" stroke="#141414" stroke-width="0.36">4</text>
<text x="45.9" y="324.1" font-family='"Liberation Sans", sans-serif' font-size="11.2" text-anchor="middle" fill="#141414" stroke="#141414" stroke-width="0.36">2</text>
<text x="45.9" y="392.0" font-family='"Liberation Sans", sans-serif' font-size="11.2" text-anchor="middle" fill="#141414" stroke="#141414" stroke-width="0.36">4</text>
<text x="45.9" y="439.2" font-family='"Liberation Sans", sans-serif' font-size="11.2" text-anchor="middle" fill="#141414" stroke="#141414" stroke-width="0.36">2</text>
<text x="45.9" y="373.6" font-family='"Liberation Sans", sans-serif' font-size="11.2" text-anchor="middle" fill="#141414" stroke="#141414" stroke-width="0.36">0</text>
<text x="46.2" y="497.8" font-family='"Liberation Sans", sans-serif' font-size="11.2" text-anchor="middle" fill="#141414" stroke="#141414" stroke-width="0.36">0</text>
<text x="118.35" y="497.3" font-family='"Liberation Sans", sans-serif' font-size="11.2" text-anchor="middle" fill="#141414" stroke="#141414" stroke-width="0.36">2</text>
<text x="179.5" y="497.3" font-family='"Liberation Sans", sans-serif' font-size="11.2" text-anchor="middle" fill="#141414" stroke="#141414" stroke-width="0.36">4</text>
<text x="256.85" y="497.3" font-family='"Liberation Sans", sans-serif' font-size="11.2" text-anchor="middle" fill="#141414" stroke="#141414" stroke-width="0.36">2</text>
<text x="317.8" y="497.3" font-family='"Liberation Sans", sans-serif' font-size="11.2" text-anchor="middle" fill="#141414" stroke="#141414" stroke-width="0.36">4</text>
<text x="395.55" y="497.3" font-family='"Liberation Sans", sans-serif' font-size="11.2" text-anchor="middle" fill="#141414" stroke="#141414" stroke-width="0.36">2</text>
<text x="456.8" y="497.3" font-family='"Liberation Sans", sans-serif' font-size="11.2" text-anchor="middle" fill="#141414" stroke="#141414" stroke-width="0.36">4</text>
</svg></body></html>
